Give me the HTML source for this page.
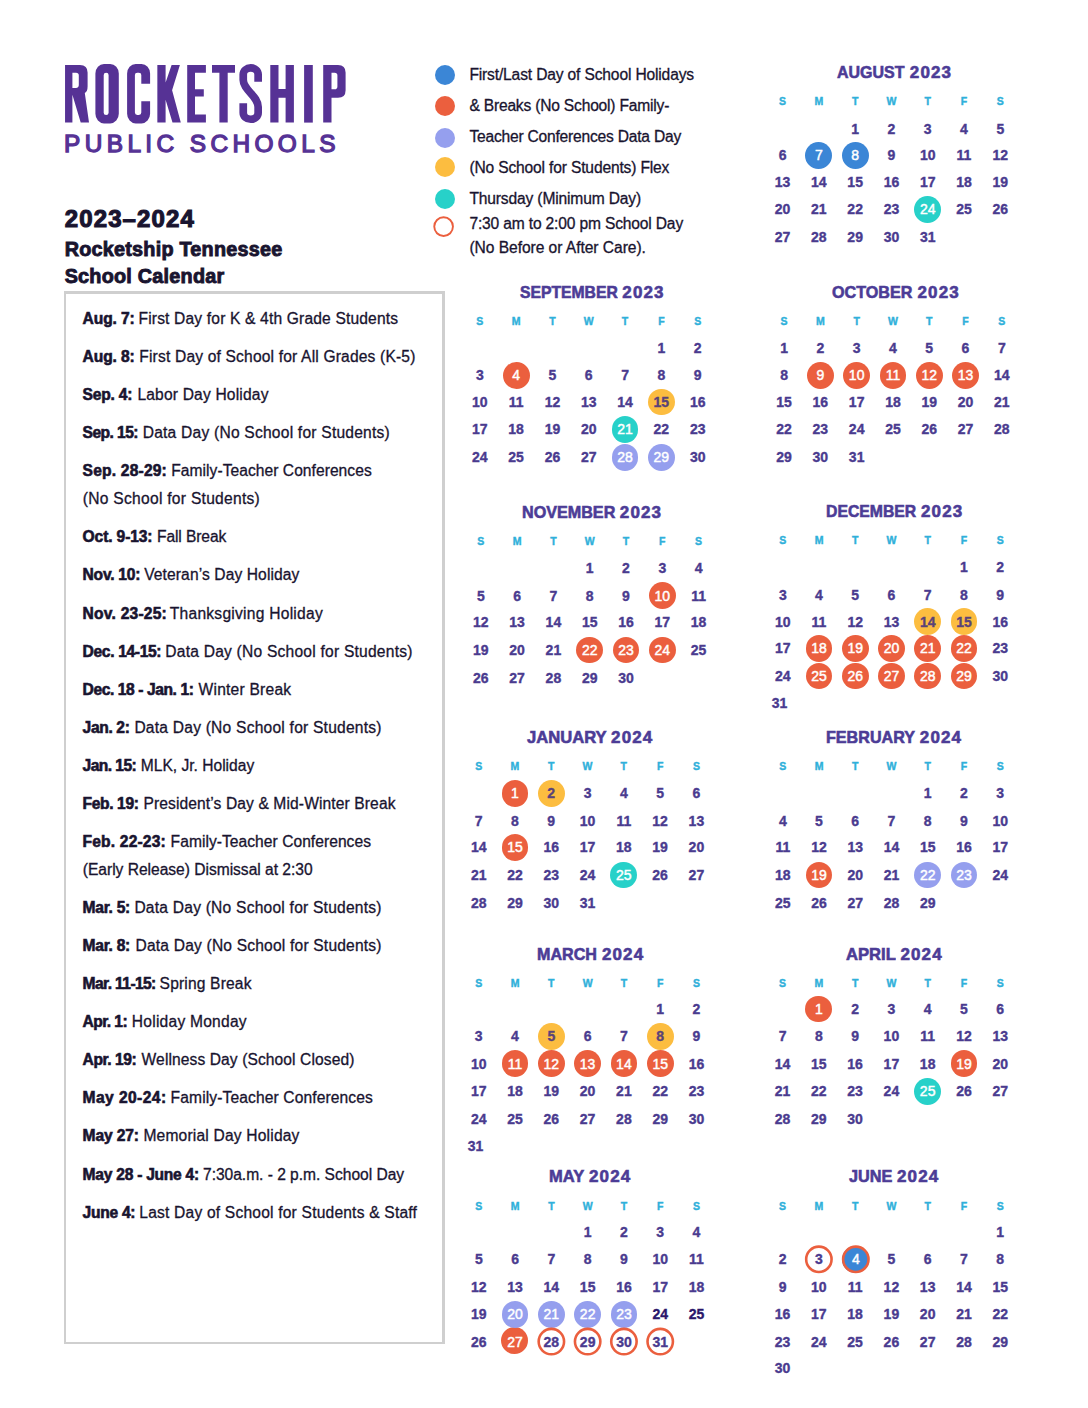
<!DOCTYPE html>
<html lang="en"><head><meta charset="utf-8"><title>Rocketship Tennessee School Calendar 2023-2024</title>
<style>
html,body{margin:0;padding:0;background:#fff}
body{width:1088px;height:1408px;position:relative;overflow:hidden;font-family:"Liberation Sans", sans-serif;}
.t{position:absolute;white-space:nowrap;line-height:1;font-kerning:normal}
.c,.d{position:absolute;border-radius:50%;display:block}
.c{width:26.8px;height:26.8px}
.d{width:20.6px;height:20.6px}
.box{position:absolute;left:64px;top:291px;width:381px;height:1053px;box-sizing:border-box;border:solid #cfcfcf;border-width:3px 3px 2px 2px}
svg.logo{position:absolute;left:0;top:0}
b{font-weight:700}
</style></head><body>
<svg class="logo" width="400" height="170" viewBox="0 0 400 170" fill="#563295">
<path fill-rule="evenodd" d="M65.05 65H80Q87.6 65 87.6 72.6V86.4Q87.6 91.4 84.8 93L89 122.6H80.7L72.4 94.8V122.6H65.05Z M72.4 72.7H76Q78.8 72.7 78.8 75.5V85.1Q78.8 87.9 76 87.9H72.4Z"/>
<path fill-rule="evenodd" d="M104.00 64.00H110.20A8.6 9.6 0 0 1 118.80 73.60V113.80A8.6 9.6 0 0 1 110.20 123.40H104.00A8.6 9.6 0 0 1 95.40 113.80V73.60A8.6 9.6 0 0 1 104.00 64.00Z M106.15 72.70Q103.70 72.70 103.70 74.90V112.80Q103.70 115.00 106.15 115.00Q108.60 115.00 108.60 112.80V74.90Q108.60 72.70 106.15 72.70Z"/>
<path d="M135.70 64.00H141.50A8.6 9.6 0 0 1 150.10 73.60V83.70H141.30V75.10Q141.30 72.70 138.90 72.70H137.30Q134.90 72.70 134.90 75.10V112.60Q134.90 115.00 137.30 115.00H138.90Q141.30 115.00 141.30 112.60V101.20H150.10V113.80A8.6 9.6 0 0 1 141.50 123.40H135.70A8.6 9.6 0 0 1 127.10 113.80V73.60A8.6 9.6 0 0 1 135.70 64.00Z"/>
<path d="M157.35 65H165.6V82.4L171.6 65H179.9L172.1 90.2L180.8 122.6H172.5L165.6 99.8V122.6H157.35Z"/>
<path d="M187.2 65H205.9V72.7H195V89.25H203.8V96.6H195V114.5H205.9V122.6H187.2Z"/>
<path d="M212 65H235V72.7H227.7V122.6H219.4V72.7H212Z"/>
<path fill="none" stroke="#563295" stroke-width="7.7" d="M258.15 81.7V74.5A7.45 6.55 0 0 0 243.25 74.5V80C243.25 90 258.15 96 258.15 107V112.7A7.45 6.55 0 0 1 243.25 112.7V103.2"/>
<path d="M270.3 65H278.5V88.9H285.6V65H293.9V122.6H285.6V97.7H278.5V122.6H270.3Z"/>
<path d="M304.1 65H312.8V122.6H304.1Z"/>
<path fill-rule="evenodd" d="M323.2 65H338Q345.6 65 345.6 72.6V90.2Q345.6 97.8 338 97.8H331.5V122.6H323.2Z M331.5 72.8H334.6Q337.4 72.8 337.4 75.6V86.4Q337.4 89.2 334.6 89.2H331.5Z"/>
</svg>

<div class="box"></div>
<i class="c" style="left:500.98px;top:1326.90px;background:#eb5f3e"></i>
<i class="c" style="left:805.48px;top:142.00px;background:#3b86d6"></i>
<i class="c" style="left:841.77px;top:142.00px;background:#3b86d6"></i>
<i class="c" style="left:914.33px;top:196.00px;background:#27d1c9"></i>
<i class="c" style="left:502.72px;top:361.90px;background:#eb5f3e"></i>
<i class="c" style="left:647.98px;top:388.60px;background:#fcbd40"></i>
<i class="c" style="left:611.67px;top:416.00px;background:#27d1c9"></i>
<i class="c" style="left:611.67px;top:444.00px;background:#959fee"></i>
<i class="c" style="left:647.98px;top:444.00px;background:#959fee"></i>
<i class="c" style="left:806.98px;top:361.90px;background:#eb5f3e"></i>
<i class="c" style="left:843.27px;top:361.90px;background:#eb5f3e"></i>
<i class="c" style="left:879.55px;top:361.90px;background:#eb5f3e"></i>
<i class="c" style="left:915.83px;top:361.90px;background:#eb5f3e"></i>
<i class="c" style="left:952.12px;top:361.90px;background:#eb5f3e"></i>
<i class="c" style="left:648.90px;top:582.10px;background:#eb5f3e"></i>
<i class="c" style="left:576.30px;top:636.70px;background:#eb5f3e"></i>
<i class="c" style="left:612.60px;top:636.70px;background:#eb5f3e"></i>
<i class="c" style="left:648.90px;top:636.70px;background:#eb5f3e"></i>
<i class="c" style="left:914.33px;top:608.20px;background:#fcbd40"></i>
<i class="c" style="left:950.57px;top:608.20px;background:#fcbd40"></i>
<i class="c" style="left:805.63px;top:634.90px;background:#eb5f3e"></i>
<i class="c" style="left:841.87px;top:634.90px;background:#eb5f3e"></i>
<i class="c" style="left:878.10px;top:634.90px;background:#eb5f3e"></i>
<i class="c" style="left:914.33px;top:634.90px;background:#eb5f3e"></i>
<i class="c" style="left:950.57px;top:634.90px;background:#eb5f3e"></i>
<i class="c" style="left:805.63px;top:662.70px;background:#eb5f3e"></i>
<i class="c" style="left:841.87px;top:662.70px;background:#eb5f3e"></i>
<i class="c" style="left:878.10px;top:662.70px;background:#eb5f3e"></i>
<i class="c" style="left:914.33px;top:662.70px;background:#eb5f3e"></i>
<i class="c" style="left:950.57px;top:662.70px;background:#eb5f3e"></i>
<i class="c" style="left:501.58px;top:780.00px;background:#eb5f3e"></i>
<i class="c" style="left:537.87px;top:780.00px;background:#fcbd40"></i>
<i class="c" style="left:501.58px;top:833.80px;background:#eb5f3e"></i>
<i class="c" style="left:610.43px;top:861.70px;background:#27d1c9"></i>
<i class="c" style="left:805.63px;top:861.70px;background:#eb5f3e"></i>
<i class="c" style="left:914.33px;top:861.70px;background:#959fee"></i>
<i class="c" style="left:950.57px;top:861.70px;background:#959fee"></i>
<i class="c" style="left:537.90px;top:1022.80px;background:#fcbd40"></i>
<i class="c" style="left:646.80px;top:1022.80px;background:#fcbd40"></i>
<i class="c" style="left:501.60px;top:1050.10px;background:#eb5f3e"></i>
<i class="c" style="left:537.90px;top:1050.10px;background:#eb5f3e"></i>
<i class="c" style="left:574.20px;top:1050.10px;background:#eb5f3e"></i>
<i class="c" style="left:610.50px;top:1050.10px;background:#eb5f3e"></i>
<i class="c" style="left:646.80px;top:1050.10px;background:#eb5f3e"></i>
<i class="c" style="left:805.47px;top:995.50px;background:#eb5f3e"></i>
<i class="c" style="left:950.53px;top:1050.10px;background:#eb5f3e"></i>
<i class="c" style="left:914.27px;top:1077.90px;background:#27d1c9"></i>
<i class="c" style="left:501.68px;top:1300.90px;background:#959fee"></i>
<i class="c" style="left:537.97px;top:1300.90px;background:#959fee"></i>
<i class="c" style="left:574.25px;top:1300.90px;background:#959fee"></i>
<i class="c" style="left:610.53px;top:1300.90px;background:#959fee"></i>
<i class="c" style="left:842.43px;top:1245.90px;background:#3b86d6"></i>
<i class="d" style="left:434.70px;top:64.70px;background:#3b86d6"></i>
<i class="d" style="left:434.70px;top:95.80px;background:#eb5f3e"></i>
<i class="d" style="left:434.70px;top:127.60px;background:#959fee"></i>
<i class="d" style="left:434.70px;top:156.80px;background:#fcbd40"></i>
<i class="d" style="left:434.70px;top:188.80px;background:#27d1c9"></i>
<svg class="logo" width="1088" height="1408" viewBox="0 0 1088 1408" fill="none" stroke="#eb5f3e">
<circle cx="551.37" cy="1341.60" r="12.7" stroke-width="2.6"/>
<circle cx="587.65" cy="1341.60" r="12.7" stroke-width="2.6"/>
<circle cx="623.93" cy="1341.60" r="12.7" stroke-width="2.6"/>
<circle cx="660.22" cy="1341.60" r="12.7" stroke-width="2.6"/>
<circle cx="818.87" cy="1259.30" r="12.7" stroke-width="2.6"/>
<circle cx="855.83" cy="1259.30" r="12.7" stroke-width="2.6"/>
<circle cx="443.6" cy="226.6" r="9.35" stroke-width="1.9"/>
</svg>
<span class="t" id="t0" style="top:205px;line-height:27px;font-size:24.00px;color:#19142f;font-weight:700;letter-spacing:1.132px;left:64.70px;-webkit-text-stroke:1.1px #19142f;">2023–2024</span>
<span class="t" id="t1" style="top:238px;line-height:22px;font-size:19.80px;color:#19142f;font-weight:700;letter-spacing:0.241px;left:64.70px;-webkit-text-stroke:0.9px #19142f;">Rocketship Tennessee</span>
<span class="t" id="t2" style="top:265px;line-height:22px;font-size:19.80px;color:#19142f;font-weight:700;letter-spacing:0.243px;left:64.70px;-webkit-text-stroke:0.9px #19142f;">School Calendar</span>
<span class="t" id="t3" style="top:130px;line-height:27px;font-size:24.40px;color:#563295;letter-spacing:4.410px;left:64.00px;-webkit-text-stroke:1.35px #563295;">PUBLIC SCHOOLS</span>
<span class="t" id="t4" style="top:66px;line-height:17px;font-size:15.60px;color:#19142f;letter-spacing:-0.155px;left:469.40px;-webkit-text-stroke:0.3px #19142f;">First/Last Day of School Holidays</span>
<span class="t" id="t5" style="top:97px;line-height:17px;font-size:15.60px;color:#19142f;letter-spacing:-0.199px;left:469.40px;-webkit-text-stroke:0.3px #19142f;">&amp; Breaks (No School) Family-</span>
<span class="t" id="t6" style="top:128px;line-height:17px;font-size:15.60px;color:#19142f;letter-spacing:-0.213px;left:469.40px;-webkit-text-stroke:0.3px #19142f;">Teacher Conferences Data Day</span>
<span class="t" id="t7" style="top:159px;line-height:17px;font-size:15.60px;color:#19142f;letter-spacing:-0.162px;left:469.40px;-webkit-text-stroke:0.3px #19142f;">(No School for Students) Flex</span>
<span class="t" id="t8" style="top:190px;line-height:17px;font-size:15.60px;color:#19142f;letter-spacing:-0.154px;left:469.40px;-webkit-text-stroke:0.3px #19142f;">Thursday (Minimum Day)</span>
<span class="t" id="t9" style="top:215px;line-height:17px;font-size:15.60px;color:#19142f;letter-spacing:-0.166px;left:469.40px;-webkit-text-stroke:0.3px #19142f;">7:30 am to 2:00 pm School Day</span>
<span class="t" id="t10" style="top:239px;line-height:17px;font-size:15.60px;color:#19142f;letter-spacing:-0.047px;left:469.40px;-webkit-text-stroke:0.3px #19142f;">(No Before or After Care).</span>
<span class="t" id="t11" style="top:310px;line-height:17px;font-size:15.60px;color:#19142f;font-weight:700;letter-spacing:-0.107px;left:82.60px;-webkit-text-stroke:0.6px #19142f;">Aug. 7:</span>
<span class="t" id="t12" style="top:310px;line-height:17px;font-size:15.60px;color:#19142f;letter-spacing:0.161px;left:138.50px;-webkit-text-stroke:0.3px #19142f;">First Day for K &amp; 4th Grade Students</span>
<span class="t" id="t13" style="top:348px;line-height:17px;font-size:15.60px;color:#19142f;font-weight:700;letter-spacing:-0.107px;left:82.60px;-webkit-text-stroke:0.6px #19142f;">Aug. 8:</span>
<span class="t" id="t14" style="top:348px;line-height:17px;font-size:15.60px;color:#19142f;letter-spacing:0.169px;left:139.30px;-webkit-text-stroke:0.3px #19142f;">First Day of School for All Grades (K-5)</span>
<span class="t" id="t15" style="top:386px;line-height:17px;font-size:15.60px;color:#19142f;font-weight:700;letter-spacing:-0.207px;left:82.60px;-webkit-text-stroke:0.6px #19142f;">Sep. 4:</span>
<span class="t" id="t16" style="top:386px;line-height:17px;font-size:15.60px;color:#19142f;letter-spacing:0.175px;left:137.40px;-webkit-text-stroke:0.3px #19142f;">Labor Day Holiday</span>
<span class="t" id="t17" style="top:424px;line-height:17px;font-size:15.60px;color:#19142f;font-weight:700;letter-spacing:-0.559px;left:82.60px;-webkit-text-stroke:0.6px #19142f;">Sep. 15:</span>
<span class="t" id="t18" style="top:424px;line-height:17px;font-size:15.60px;color:#19142f;letter-spacing:0.219px;left:142.70px;-webkit-text-stroke:0.3px #19142f;">Data Day (No School for Students)</span>
<span class="t" id="t19" style="top:462px;line-height:17px;font-size:15.60px;color:#19142f;font-weight:700;letter-spacing:0.186px;left:82.60px;-webkit-text-stroke:0.6px #19142f;">Sep. 28-29:</span>
<span class="t" id="t20" style="top:462px;line-height:17px;font-size:15.60px;color:#19142f;letter-spacing:0.042px;left:171.30px;-webkit-text-stroke:0.3px #19142f;">Family-Teacher Conferences</span>
<span class="t" id="t21" style="top:490px;line-height:17px;font-size:15.60px;color:#19142f;letter-spacing:0.272px;left:82.80px;-webkit-text-stroke:0.3px #19142f;">(No School for Students)</span>
<span class="t" id="t22" style="top:528px;line-height:17px;font-size:15.60px;color:#19142f;font-weight:700;letter-spacing:-0.131px;left:82.60px;-webkit-text-stroke:0.6px #19142f;">Oct. 9-13:</span>
<span class="t" id="t23" style="top:528px;line-height:17px;font-size:15.60px;color:#19142f;letter-spacing:-0.100px;left:157.00px;-webkit-text-stroke:0.3px #19142f;">Fall Break</span>
<span class="t" id="t24" style="top:566px;line-height:17px;font-size:15.60px;color:#19142f;font-weight:700;letter-spacing:-0.245px;left:82.60px;-webkit-text-stroke:0.6px #19142f;">Nov. 10:</span>
<span class="t" id="t25" style="top:566px;line-height:17px;font-size:15.60px;color:#19142f;letter-spacing:0.103px;left:144.20px;-webkit-text-stroke:0.3px #19142f;">Veteran’s Day Holiday</span>
<span class="t" id="t26" style="top:605px;line-height:17px;font-size:15.60px;color:#19142f;font-weight:700;letter-spacing:0.215px;left:82.60px;-webkit-text-stroke:0.6px #19142f;">Nov. 23-25:</span>
<span class="t" id="t27" style="top:605px;line-height:17px;font-size:15.60px;color:#19142f;letter-spacing:0.246px;left:169.80px;-webkit-text-stroke:0.3px #19142f;">Thanksgiving Holiday</span>
<span class="t" id="t28" style="top:643px;line-height:17px;font-size:15.60px;color:#19142f;font-weight:700;letter-spacing:-0.346px;left:82.60px;-webkit-text-stroke:0.6px #19142f;">Dec. 14-15:</span>
<span class="t" id="t29" style="top:643px;line-height:17px;font-size:15.60px;color:#19142f;letter-spacing:0.219px;left:165.30px;-webkit-text-stroke:0.3px #19142f;">Data Day (No School for Students)</span>
<span class="t" id="t30" style="top:681px;line-height:17px;font-size:15.60px;color:#19142f;font-weight:700;letter-spacing:-0.411px;left:82.60px;-webkit-text-stroke:0.6px #19142f;">Dec. 18 - Jan. 1:</span>
<span class="t" id="t31" style="top:681px;line-height:17px;font-size:15.60px;color:#19142f;letter-spacing:0.225px;left:198.50px;-webkit-text-stroke:0.3px #19142f;">Winter Break</span>
<span class="t" id="t32" style="top:719px;line-height:17px;font-size:15.60px;color:#19142f;font-weight:700;letter-spacing:-0.351px;left:82.60px;-webkit-text-stroke:0.6px #19142f;">Jan. 2:</span>
<span class="t" id="t33" style="top:719px;line-height:17px;font-size:15.60px;color:#19142f;letter-spacing:0.219px;left:134.40px;-webkit-text-stroke:0.3px #19142f;">Data Day (No School for Students)</span>
<span class="t" id="t34" style="top:757px;line-height:17px;font-size:15.60px;color:#19142f;font-weight:700;letter-spacing:-0.568px;left:82.60px;-webkit-text-stroke:0.6px #19142f;">Jan. 15:</span>
<span class="t" id="t35" style="top:757px;line-height:17px;font-size:15.60px;color:#19142f;letter-spacing:-0.009px;left:140.80px;-webkit-text-stroke:0.3px #19142f;">MLK, Jr. Holiday</span>
<span class="t" id="t36" style="top:795px;line-height:17px;font-size:15.60px;color:#19142f;font-weight:700;letter-spacing:-0.377px;left:82.60px;-webkit-text-stroke:0.6px #19142f;">Feb. 19:</span>
<span class="t" id="t37" style="top:795px;line-height:17px;font-size:15.60px;color:#19142f;letter-spacing:0.111px;left:143.40px;-webkit-text-stroke:0.3px #19142f;">President’s Day &amp; Mid-Winter Break</span>
<span class="t" id="t38" style="top:833px;line-height:17px;font-size:15.60px;color:#19142f;font-weight:700;letter-spacing:0.163px;left:82.60px;-webkit-text-stroke:0.6px #19142f;">Feb. 22-23:</span>
<span class="t" id="t39" style="top:833px;line-height:17px;font-size:15.60px;color:#19142f;letter-spacing:0.042px;left:170.60px;-webkit-text-stroke:0.3px #19142f;">Family-Teacher Conferences</span>
<span class="t" id="t40" style="top:861px;line-height:17px;font-size:15.60px;color:#19142f;letter-spacing:-0.023px;left:82.80px;-webkit-text-stroke:0.3px #19142f;">(Early Release) Dismissal at 2:30</span>
<span class="t" id="t41" style="top:899px;line-height:17px;font-size:15.60px;color:#19142f;font-weight:700;letter-spacing:-0.284px;left:82.60px;-webkit-text-stroke:0.6px #19142f;">Mar. 5:</span>
<span class="t" id="t42" style="top:899px;line-height:17px;font-size:15.60px;color:#19142f;letter-spacing:0.219px;left:134.40px;-webkit-text-stroke:0.3px #19142f;">Data Day (No School for Students)</span>
<span class="t" id="t43" style="top:937px;line-height:17px;font-size:15.60px;color:#19142f;font-weight:700;letter-spacing:-0.284px;left:82.60px;-webkit-text-stroke:0.6px #19142f;">Mar. 8:</span>
<span class="t" id="t44" style="top:937px;line-height:17px;font-size:15.60px;color:#19142f;letter-spacing:0.185px;left:135.50px;-webkit-text-stroke:0.3px #19142f;">Data Day (No School for Students)</span>
<span class="t" id="t45" style="top:975px;line-height:17px;font-size:15.60px;color:#19142f;font-weight:700;letter-spacing:-0.605px;left:82.60px;-webkit-text-stroke:0.6px #19142f;">Mar. 11-15:</span>
<span class="t" id="t46" style="top:975px;line-height:17px;font-size:15.60px;color:#19142f;letter-spacing:0.159px;left:159.60px;-webkit-text-stroke:0.3px #19142f;">Spring Break</span>
<span class="t" id="t47" style="top:1013px;line-height:17px;font-size:15.60px;color:#19142f;font-weight:700;letter-spacing:-0.589px;left:82.60px;-webkit-text-stroke:0.6px #19142f;">Apr. 1:</span>
<span class="t" id="t48" style="top:1013px;line-height:17px;font-size:15.60px;color:#19142f;letter-spacing:0.229px;left:131.80px;-webkit-text-stroke:0.3px #19142f;">Holiday Monday</span>
<span class="t" id="t49" style="top:1051px;line-height:17px;font-size:15.60px;color:#19142f;font-weight:700;letter-spacing:-0.443px;left:82.60px;-webkit-text-stroke:0.6px #19142f;">Apr. 19:</span>
<span class="t" id="t50" style="top:1051px;line-height:17px;font-size:15.60px;color:#19142f;letter-spacing:0.092px;left:141.60px;-webkit-text-stroke:0.3px #19142f;">Wellness Day (School Closed)</span>
<span class="t" id="t51" style="top:1089px;line-height:17px;font-size:15.60px;color:#19142f;font-weight:700;letter-spacing:0.417px;left:82.60px;-webkit-text-stroke:0.6px #19142f;">May 20-24:</span>
<span class="t" id="t52" style="top:1089px;line-height:17px;font-size:15.60px;color:#19142f;letter-spacing:0.118px;left:170.60px;-webkit-text-stroke:0.3px #19142f;">Family-Teacher Conferences</span>
<span class="t" id="t53" style="top:1127px;line-height:17px;font-size:15.60px;color:#19142f;font-weight:700;letter-spacing:-0.153px;left:82.60px;-webkit-text-stroke:0.6px #19142f;">May 27:</span>
<span class="t" id="t54" style="top:1127px;line-height:17px;font-size:15.60px;color:#19142f;letter-spacing:0.183px;left:143.40px;-webkit-text-stroke:0.3px #19142f;">Memorial Day Holiday</span>
<span class="t" id="t55" style="top:1166px;line-height:17px;font-size:15.60px;color:#19142f;font-weight:700;letter-spacing:-0.258px;left:82.60px;-webkit-text-stroke:0.6px #19142f;">May 28 - June 4:</span>
<span class="t" id="t56" style="top:1166px;line-height:17px;font-size:15.60px;color:#19142f;letter-spacing:-0.032px;left:203.00px;-webkit-text-stroke:0.3px #19142f;">7:30a.m. - 2 p.m. School Day</span>
<span class="t" id="t57" style="top:1204px;line-height:17px;font-size:15.60px;color:#19142f;font-weight:700;letter-spacing:-0.282px;left:82.60px;-webkit-text-stroke:0.6px #19142f;">June 4:</span>
<span class="t" id="t58" style="top:1204px;line-height:17px;font-size:15.60px;color:#19142f;letter-spacing:0.195px;left:139.30px;-webkit-text-stroke:0.3px #19142f;">Last Day of School for Students &amp; Staff</span>
<span class="t" id="t59" style="top:63px;line-height:19px;font-size:17.00px;color:#4c3c96;font-weight:700;left:837.40px;transform-origin:0 0;transform:scaleX(0.9390);-webkit-text-stroke:0.6px #4c3c96;">AUGUST</span>
<span class="t" id="t60" style="top:63px;line-height:19px;font-size:17.00px;color:#4c3c96;font-weight:700;letter-spacing:1.124px;left:909.80px;-webkit-text-stroke:0.6px #4c3c96;">2023</span>
<span class="t" id="t61" style="top:95px;line-height:12px;font-size:10.50px;color:#2fb0da;font-weight:700;left:782.60px;transform:translateX(-50%);-webkit-text-stroke:0.4px #2fb0da;">S</span>
<span class="t" id="t62" style="top:95px;line-height:12px;font-size:10.50px;color:#2fb0da;font-weight:700;left:818.88px;transform:translateX(-50%);-webkit-text-stroke:0.4px #2fb0da;">M</span>
<span class="t" id="t63" style="top:95px;line-height:12px;font-size:10.50px;color:#2fb0da;font-weight:700;left:855.17px;transform:translateX(-50%);-webkit-text-stroke:0.4px #2fb0da;">T</span>
<span class="t" id="t64" style="top:95px;line-height:12px;font-size:10.50px;color:#2fb0da;font-weight:700;left:891.45px;transform:translateX(-50%);-webkit-text-stroke:0.4px #2fb0da;">W</span>
<span class="t" id="t65" style="top:95px;line-height:12px;font-size:10.50px;color:#2fb0da;font-weight:700;left:927.73px;transform:translateX(-50%);-webkit-text-stroke:0.4px #2fb0da;">T</span>
<span class="t" id="t66" style="top:95px;line-height:12px;font-size:10.50px;color:#2fb0da;font-weight:700;left:964.02px;transform:translateX(-50%);-webkit-text-stroke:0.4px #2fb0da;">F</span>
<span class="t" id="t67" style="top:95px;line-height:12px;font-size:10.50px;color:#2fb0da;font-weight:700;left:1000.30px;transform:translateX(-50%);-webkit-text-stroke:0.4px #2fb0da;">S</span>
<span class="t" id="t68" style="top:121px;line-height:16px;font-size:14.00px;color:#4a3b8f;font-weight:700;left:855.17px;transform:translateX(-50%);-webkit-text-stroke:0.35px #4a3b8f;">1</span>
<span class="t" id="t69" style="top:121px;line-height:16px;font-size:14.00px;color:#4a3b8f;font-weight:700;left:891.45px;transform:translateX(-50%);-webkit-text-stroke:0.35px #4a3b8f;">2</span>
<span class="t" id="t70" style="top:121px;line-height:16px;font-size:14.00px;color:#4a3b8f;font-weight:700;left:927.73px;transform:translateX(-50%);-webkit-text-stroke:0.35px #4a3b8f;">3</span>
<span class="t" id="t71" style="top:121px;line-height:16px;font-size:14.00px;color:#4a3b8f;font-weight:700;left:964.02px;transform:translateX(-50%);-webkit-text-stroke:0.35px #4a3b8f;">4</span>
<span class="t" id="t72" style="top:121px;line-height:16px;font-size:14.00px;color:#4a3b8f;font-weight:700;left:1000.30px;transform:translateX(-50%);-webkit-text-stroke:0.35px #4a3b8f;">5</span>
<span class="t" id="t73" style="top:147px;line-height:16px;font-size:14.00px;color:#4a3b8f;font-weight:700;left:782.60px;transform:translateX(-50%);-webkit-text-stroke:0.35px #4a3b8f;">6</span>
<span class="t" id="t74" style="top:147px;line-height:16px;font-size:14.00px;color:#fff;left:818.88px;transform:translateX(-50%);-webkit-text-stroke:0.45px #fff;">7</span>
<span class="t" id="t75" style="top:147px;line-height:16px;font-size:14.00px;color:#fff;left:855.17px;transform:translateX(-50%);-webkit-text-stroke:0.45px #fff;">8</span>
<span class="t" id="t76" style="top:147px;line-height:16px;font-size:14.00px;color:#4a3b8f;font-weight:700;left:891.45px;transform:translateX(-50%);-webkit-text-stroke:0.35px #4a3b8f;">9</span>
<span class="t" id="t77" style="top:147px;line-height:16px;font-size:14.00px;color:#4a3b8f;font-weight:700;left:927.73px;transform:translateX(-50%);-webkit-text-stroke:0.35px #4a3b8f;">10</span>
<span class="t" id="t78" style="top:147px;line-height:16px;font-size:14.00px;color:#4a3b8f;font-weight:700;left:964.02px;transform:translateX(-50%);-webkit-text-stroke:0.35px #4a3b8f;">11</span>
<span class="t" id="t79" style="top:147px;line-height:16px;font-size:14.00px;color:#4a3b8f;font-weight:700;left:1000.30px;transform:translateX(-50%);-webkit-text-stroke:0.35px #4a3b8f;">12</span>
<span class="t" id="t80" style="top:174px;line-height:16px;font-size:14.00px;color:#4a3b8f;font-weight:700;left:782.60px;transform:translateX(-50%);-webkit-text-stroke:0.35px #4a3b8f;">13</span>
<span class="t" id="t81" style="top:174px;line-height:16px;font-size:14.00px;color:#4a3b8f;font-weight:700;left:818.88px;transform:translateX(-50%);-webkit-text-stroke:0.35px #4a3b8f;">14</span>
<span class="t" id="t82" style="top:174px;line-height:16px;font-size:14.00px;color:#4a3b8f;font-weight:700;left:855.17px;transform:translateX(-50%);-webkit-text-stroke:0.35px #4a3b8f;">15</span>
<span class="t" id="t83" style="top:174px;line-height:16px;font-size:14.00px;color:#4a3b8f;font-weight:700;left:891.45px;transform:translateX(-50%);-webkit-text-stroke:0.35px #4a3b8f;">16</span>
<span class="t" id="t84" style="top:174px;line-height:16px;font-size:14.00px;color:#4a3b8f;font-weight:700;left:927.73px;transform:translateX(-50%);-webkit-text-stroke:0.35px #4a3b8f;">17</span>
<span class="t" id="t85" style="top:174px;line-height:16px;font-size:14.00px;color:#4a3b8f;font-weight:700;left:964.02px;transform:translateX(-50%);-webkit-text-stroke:0.35px #4a3b8f;">18</span>
<span class="t" id="t86" style="top:174px;line-height:16px;font-size:14.00px;color:#4a3b8f;font-weight:700;left:1000.30px;transform:translateX(-50%);-webkit-text-stroke:0.35px #4a3b8f;">19</span>
<span class="t" id="t87" style="top:201px;line-height:16px;font-size:14.00px;color:#4a3b8f;font-weight:700;left:782.60px;transform:translateX(-50%);-webkit-text-stroke:0.35px #4a3b8f;">20</span>
<span class="t" id="t88" style="top:201px;line-height:16px;font-size:14.00px;color:#4a3b8f;font-weight:700;left:818.88px;transform:translateX(-50%);-webkit-text-stroke:0.35px #4a3b8f;">21</span>
<span class="t" id="t89" style="top:201px;line-height:16px;font-size:14.00px;color:#4a3b8f;font-weight:700;left:855.17px;transform:translateX(-50%);-webkit-text-stroke:0.35px #4a3b8f;">22</span>
<span class="t" id="t90" style="top:201px;line-height:16px;font-size:14.00px;color:#4a3b8f;font-weight:700;left:891.45px;transform:translateX(-50%);-webkit-text-stroke:0.35px #4a3b8f;">23</span>
<span class="t" id="t91" style="top:201px;line-height:16px;font-size:14.00px;color:#fff;left:927.73px;transform:translateX(-50%);-webkit-text-stroke:0.45px #fff;">24</span>
<span class="t" id="t92" style="top:201px;line-height:16px;font-size:14.00px;color:#4a3b8f;font-weight:700;left:964.02px;transform:translateX(-50%);-webkit-text-stroke:0.35px #4a3b8f;">25</span>
<span class="t" id="t93" style="top:201px;line-height:16px;font-size:14.00px;color:#4a3b8f;font-weight:700;left:1000.30px;transform:translateX(-50%);-webkit-text-stroke:0.35px #4a3b8f;">26</span>
<span class="t" id="t94" style="top:229px;line-height:16px;font-size:14.00px;color:#4a3b8f;font-weight:700;left:782.60px;transform:translateX(-50%);-webkit-text-stroke:0.35px #4a3b8f;">27</span>
<span class="t" id="t95" style="top:229px;line-height:16px;font-size:14.00px;color:#4a3b8f;font-weight:700;left:818.88px;transform:translateX(-50%);-webkit-text-stroke:0.35px #4a3b8f;">28</span>
<span class="t" id="t96" style="top:229px;line-height:16px;font-size:14.00px;color:#4a3b8f;font-weight:700;left:855.17px;transform:translateX(-50%);-webkit-text-stroke:0.35px #4a3b8f;">29</span>
<span class="t" id="t97" style="top:229px;line-height:16px;font-size:14.00px;color:#4a3b8f;font-weight:700;left:891.45px;transform:translateX(-50%);-webkit-text-stroke:0.35px #4a3b8f;">30</span>
<span class="t" id="t98" style="top:229px;line-height:16px;font-size:14.00px;color:#4a3b8f;font-weight:700;left:927.73px;transform:translateX(-50%);-webkit-text-stroke:0.35px #4a3b8f;">31</span>
<span class="t" id="t99" style="top:283px;line-height:19px;font-size:17.00px;color:#4c3c96;font-weight:700;left:519.50px;transform-origin:0 0;transform:scaleX(0.9244);-webkit-text-stroke:0.6px #4c3c96;">SEPTEMBER</span>
<span class="t" id="t100" style="top:283px;line-height:19px;font-size:17.00px;color:#4c3c96;font-weight:700;letter-spacing:1.124px;left:622.30px;-webkit-text-stroke:0.6px #4c3c96;">2023</span>
<span class="t" id="t101" style="top:315px;line-height:12px;font-size:10.50px;color:#2fb0da;font-weight:700;left:479.80px;transform:translateX(-50%);-webkit-text-stroke:0.4px #2fb0da;">S</span>
<span class="t" id="t102" style="top:315px;line-height:12px;font-size:10.50px;color:#2fb0da;font-weight:700;left:516.12px;transform:translateX(-50%);-webkit-text-stroke:0.4px #2fb0da;">M</span>
<span class="t" id="t103" style="top:315px;line-height:12px;font-size:10.50px;color:#2fb0da;font-weight:700;left:552.43px;transform:translateX(-50%);-webkit-text-stroke:0.4px #2fb0da;">T</span>
<span class="t" id="t104" style="top:315px;line-height:12px;font-size:10.50px;color:#2fb0da;font-weight:700;left:588.75px;transform:translateX(-50%);-webkit-text-stroke:0.4px #2fb0da;">W</span>
<span class="t" id="t105" style="top:315px;line-height:12px;font-size:10.50px;color:#2fb0da;font-weight:700;left:625.07px;transform:translateX(-50%);-webkit-text-stroke:0.4px #2fb0da;">T</span>
<span class="t" id="t106" style="top:315px;line-height:12px;font-size:10.50px;color:#2fb0da;font-weight:700;left:661.38px;transform:translateX(-50%);-webkit-text-stroke:0.4px #2fb0da;">F</span>
<span class="t" id="t107" style="top:315px;line-height:12px;font-size:10.50px;color:#2fb0da;font-weight:700;left:697.70px;transform:translateX(-50%);-webkit-text-stroke:0.4px #2fb0da;">S</span>
<span class="t" id="t108" style="top:340px;line-height:16px;font-size:14.00px;color:#4a3b8f;font-weight:700;left:661.38px;transform:translateX(-50%);-webkit-text-stroke:0.35px #4a3b8f;">1</span>
<span class="t" id="t109" style="top:340px;line-height:16px;font-size:14.00px;color:#4a3b8f;font-weight:700;left:697.70px;transform:translateX(-50%);-webkit-text-stroke:0.35px #4a3b8f;">2</span>
<span class="t" id="t110" style="top:367px;line-height:16px;font-size:14.00px;color:#4a3b8f;font-weight:700;left:479.80px;transform:translateX(-50%);-webkit-text-stroke:0.35px #4a3b8f;">3</span>
<span class="t" id="t111" style="top:367px;line-height:16px;font-size:14.00px;color:#fff;left:516.12px;transform:translateX(-50%);-webkit-text-stroke:0.45px #fff;">4</span>
<span class="t" id="t112" style="top:367px;line-height:16px;font-size:14.00px;color:#4a3b8f;font-weight:700;left:552.43px;transform:translateX(-50%);-webkit-text-stroke:0.35px #4a3b8f;">5</span>
<span class="t" id="t113" style="top:367px;line-height:16px;font-size:14.00px;color:#4a3b8f;font-weight:700;left:588.75px;transform:translateX(-50%);-webkit-text-stroke:0.35px #4a3b8f;">6</span>
<span class="t" id="t114" style="top:367px;line-height:16px;font-size:14.00px;color:#4a3b8f;font-weight:700;left:625.07px;transform:translateX(-50%);-webkit-text-stroke:0.35px #4a3b8f;">7</span>
<span class="t" id="t115" style="top:367px;line-height:16px;font-size:14.00px;color:#4a3b8f;font-weight:700;left:661.38px;transform:translateX(-50%);-webkit-text-stroke:0.35px #4a3b8f;">8</span>
<span class="t" id="t116" style="top:367px;line-height:16px;font-size:14.00px;color:#4a3b8f;font-weight:700;left:697.70px;transform:translateX(-50%);-webkit-text-stroke:0.35px #4a3b8f;">9</span>
<span class="t" id="t117" style="top:394px;line-height:16px;font-size:14.00px;color:#4a3b8f;font-weight:700;left:479.80px;transform:translateX(-50%);-webkit-text-stroke:0.35px #4a3b8f;">10</span>
<span class="t" id="t118" style="top:394px;line-height:16px;font-size:14.00px;color:#4a3b8f;font-weight:700;left:516.12px;transform:translateX(-50%);-webkit-text-stroke:0.35px #4a3b8f;">11</span>
<span class="t" id="t119" style="top:394px;line-height:16px;font-size:14.00px;color:#4a3b8f;font-weight:700;left:552.43px;transform:translateX(-50%);-webkit-text-stroke:0.35px #4a3b8f;">12</span>
<span class="t" id="t120" style="top:394px;line-height:16px;font-size:14.00px;color:#4a3b8f;font-weight:700;left:588.75px;transform:translateX(-50%);-webkit-text-stroke:0.35px #4a3b8f;">13</span>
<span class="t" id="t121" style="top:394px;line-height:16px;font-size:14.00px;color:#4a3b8f;font-weight:700;left:625.07px;transform:translateX(-50%);-webkit-text-stroke:0.35px #4a3b8f;">14</span>
<span class="t" id="t122" style="top:394px;line-height:16px;font-size:14.00px;color:#5a4378;font-weight:700;left:661.38px;transform:translateX(-50%);-webkit-text-stroke:0.35px #5a4378;">15</span>
<span class="t" id="t123" style="top:394px;line-height:16px;font-size:14.00px;color:#4a3b8f;font-weight:700;left:697.70px;transform:translateX(-50%);-webkit-text-stroke:0.35px #4a3b8f;">16</span>
<span class="t" id="t124" style="top:421px;line-height:16px;font-size:14.00px;color:#4a3b8f;font-weight:700;left:479.80px;transform:translateX(-50%);-webkit-text-stroke:0.35px #4a3b8f;">17</span>
<span class="t" id="t125" style="top:421px;line-height:16px;font-size:14.00px;color:#4a3b8f;font-weight:700;left:516.12px;transform:translateX(-50%);-webkit-text-stroke:0.35px #4a3b8f;">18</span>
<span class="t" id="t126" style="top:421px;line-height:16px;font-size:14.00px;color:#4a3b8f;font-weight:700;left:552.43px;transform:translateX(-50%);-webkit-text-stroke:0.35px #4a3b8f;">19</span>
<span class="t" id="t127" style="top:421px;line-height:16px;font-size:14.00px;color:#4a3b8f;font-weight:700;left:588.75px;transform:translateX(-50%);-webkit-text-stroke:0.35px #4a3b8f;">20</span>
<span class="t" id="t128" style="top:421px;line-height:16px;font-size:14.00px;color:#fff;left:625.07px;transform:translateX(-50%);-webkit-text-stroke:0.45px #fff;">21</span>
<span class="t" id="t129" style="top:421px;line-height:16px;font-size:14.00px;color:#4a3b8f;font-weight:700;left:661.38px;transform:translateX(-50%);-webkit-text-stroke:0.35px #4a3b8f;">22</span>
<span class="t" id="t130" style="top:421px;line-height:16px;font-size:14.00px;color:#4a3b8f;font-weight:700;left:697.70px;transform:translateX(-50%);-webkit-text-stroke:0.35px #4a3b8f;">23</span>
<span class="t" id="t131" style="top:449px;line-height:16px;font-size:14.00px;color:#4a3b8f;font-weight:700;left:479.80px;transform:translateX(-50%);-webkit-text-stroke:0.35px #4a3b8f;">24</span>
<span class="t" id="t132" style="top:449px;line-height:16px;font-size:14.00px;color:#4a3b8f;font-weight:700;left:516.12px;transform:translateX(-50%);-webkit-text-stroke:0.35px #4a3b8f;">25</span>
<span class="t" id="t133" style="top:449px;line-height:16px;font-size:14.00px;color:#4a3b8f;font-weight:700;left:552.43px;transform:translateX(-50%);-webkit-text-stroke:0.35px #4a3b8f;">26</span>
<span class="t" id="t134" style="top:449px;line-height:16px;font-size:14.00px;color:#4a3b8f;font-weight:700;left:588.75px;transform:translateX(-50%);-webkit-text-stroke:0.35px #4a3b8f;">27</span>
<span class="t" id="t135" style="top:449px;line-height:16px;font-size:14.00px;color:#fff;left:625.07px;transform:translateX(-50%);-webkit-text-stroke:0.45px #fff;">28</span>
<span class="t" id="t136" style="top:449px;line-height:16px;font-size:14.00px;color:#fff;left:661.38px;transform:translateX(-50%);-webkit-text-stroke:0.45px #fff;">29</span>
<span class="t" id="t137" style="top:449px;line-height:16px;font-size:14.00px;color:#4a3b8f;font-weight:700;left:697.70px;transform:translateX(-50%);-webkit-text-stroke:0.35px #4a3b8f;">30</span>
<span class="t" id="t138" style="top:283px;line-height:19px;font-size:17.00px;color:#4c3c96;font-weight:700;left:832.10px;transform-origin:0 0;transform:scaleX(0.9492);-webkit-text-stroke:0.6px #4c3c96;">OCTOBER</span>
<span class="t" id="t139" style="top:283px;line-height:19px;font-size:17.00px;color:#4c3c96;font-weight:700;letter-spacing:1.124px;left:917.50px;-webkit-text-stroke:0.6px #4c3c96;">2023</span>
<span class="t" id="t140" style="top:315px;line-height:12px;font-size:10.50px;color:#2fb0da;font-weight:700;left:784.10px;transform:translateX(-50%);-webkit-text-stroke:0.4px #2fb0da;">S</span>
<span class="t" id="t141" style="top:315px;line-height:12px;font-size:10.50px;color:#2fb0da;font-weight:700;left:820.38px;transform:translateX(-50%);-webkit-text-stroke:0.4px #2fb0da;">M</span>
<span class="t" id="t142" style="top:315px;line-height:12px;font-size:10.50px;color:#2fb0da;font-weight:700;left:856.67px;transform:translateX(-50%);-webkit-text-stroke:0.4px #2fb0da;">T</span>
<span class="t" id="t143" style="top:315px;line-height:12px;font-size:10.50px;color:#2fb0da;font-weight:700;left:892.95px;transform:translateX(-50%);-webkit-text-stroke:0.4px #2fb0da;">W</span>
<span class="t" id="t144" style="top:315px;line-height:12px;font-size:10.50px;color:#2fb0da;font-weight:700;left:929.23px;transform:translateX(-50%);-webkit-text-stroke:0.4px #2fb0da;">T</span>
<span class="t" id="t145" style="top:315px;line-height:12px;font-size:10.50px;color:#2fb0da;font-weight:700;left:965.52px;transform:translateX(-50%);-webkit-text-stroke:0.4px #2fb0da;">F</span>
<span class="t" id="t146" style="top:315px;line-height:12px;font-size:10.50px;color:#2fb0da;font-weight:700;left:1001.80px;transform:translateX(-50%);-webkit-text-stroke:0.4px #2fb0da;">S</span>
<span class="t" id="t147" style="top:340px;line-height:16px;font-size:14.00px;color:#4a3b8f;font-weight:700;left:784.10px;transform:translateX(-50%);-webkit-text-stroke:0.35px #4a3b8f;">1</span>
<span class="t" id="t148" style="top:340px;line-height:16px;font-size:14.00px;color:#4a3b8f;font-weight:700;left:820.38px;transform:translateX(-50%);-webkit-text-stroke:0.35px #4a3b8f;">2</span>
<span class="t" id="t149" style="top:340px;line-height:16px;font-size:14.00px;color:#4a3b8f;font-weight:700;left:856.67px;transform:translateX(-50%);-webkit-text-stroke:0.35px #4a3b8f;">3</span>
<span class="t" id="t150" style="top:340px;line-height:16px;font-size:14.00px;color:#4a3b8f;font-weight:700;left:892.95px;transform:translateX(-50%);-webkit-text-stroke:0.35px #4a3b8f;">4</span>
<span class="t" id="t151" style="top:340px;line-height:16px;font-size:14.00px;color:#4a3b8f;font-weight:700;left:929.23px;transform:translateX(-50%);-webkit-text-stroke:0.35px #4a3b8f;">5</span>
<span class="t" id="t152" style="top:340px;line-height:16px;font-size:14.00px;color:#4a3b8f;font-weight:700;left:965.52px;transform:translateX(-50%);-webkit-text-stroke:0.35px #4a3b8f;">6</span>
<span class="t" id="t153" style="top:340px;line-height:16px;font-size:14.00px;color:#4a3b8f;font-weight:700;left:1001.80px;transform:translateX(-50%);-webkit-text-stroke:0.35px #4a3b8f;">7</span>
<span class="t" id="t154" style="top:367px;line-height:16px;font-size:14.00px;color:#4a3b8f;font-weight:700;left:784.10px;transform:translateX(-50%);-webkit-text-stroke:0.35px #4a3b8f;">8</span>
<span class="t" id="t155" style="top:367px;line-height:16px;font-size:14.00px;color:#fff;left:820.38px;transform:translateX(-50%);-webkit-text-stroke:0.45px #fff;">9</span>
<span class="t" id="t156" style="top:367px;line-height:16px;font-size:14.00px;color:#fff;left:856.67px;transform:translateX(-50%);-webkit-text-stroke:0.45px #fff;">10</span>
<span class="t" id="t157" style="top:367px;line-height:16px;font-size:14.00px;color:#fff;left:892.95px;transform:translateX(-50%);-webkit-text-stroke:0.45px #fff;">11</span>
<span class="t" id="t158" style="top:367px;line-height:16px;font-size:14.00px;color:#fff;left:929.23px;transform:translateX(-50%);-webkit-text-stroke:0.45px #fff;">12</span>
<span class="t" id="t159" style="top:367px;line-height:16px;font-size:14.00px;color:#fff;left:965.52px;transform:translateX(-50%);-webkit-text-stroke:0.45px #fff;">13</span>
<span class="t" id="t160" style="top:367px;line-height:16px;font-size:14.00px;color:#4a3b8f;font-weight:700;left:1001.80px;transform:translateX(-50%);-webkit-text-stroke:0.35px #4a3b8f;">14</span>
<span class="t" id="t161" style="top:394px;line-height:16px;font-size:14.00px;color:#4a3b8f;font-weight:700;left:784.10px;transform:translateX(-50%);-webkit-text-stroke:0.35px #4a3b8f;">15</span>
<span class="t" id="t162" style="top:394px;line-height:16px;font-size:14.00px;color:#4a3b8f;font-weight:700;left:820.38px;transform:translateX(-50%);-webkit-text-stroke:0.35px #4a3b8f;">16</span>
<span class="t" id="t163" style="top:394px;line-height:16px;font-size:14.00px;color:#4a3b8f;font-weight:700;left:856.67px;transform:translateX(-50%);-webkit-text-stroke:0.35px #4a3b8f;">17</span>
<span class="t" id="t164" style="top:394px;line-height:16px;font-size:14.00px;color:#4a3b8f;font-weight:700;left:892.95px;transform:translateX(-50%);-webkit-text-stroke:0.35px #4a3b8f;">18</span>
<span class="t" id="t165" style="top:394px;line-height:16px;font-size:14.00px;color:#4a3b8f;font-weight:700;left:929.23px;transform:translateX(-50%);-webkit-text-stroke:0.35px #4a3b8f;">19</span>
<span class="t" id="t166" style="top:394px;line-height:16px;font-size:14.00px;color:#4a3b8f;font-weight:700;left:965.52px;transform:translateX(-50%);-webkit-text-stroke:0.35px #4a3b8f;">20</span>
<span class="t" id="t167" style="top:394px;line-height:16px;font-size:14.00px;color:#4a3b8f;font-weight:700;left:1001.80px;transform:translateX(-50%);-webkit-text-stroke:0.35px #4a3b8f;">21</span>
<span class="t" id="t168" style="top:421px;line-height:16px;font-size:14.00px;color:#4a3b8f;font-weight:700;left:784.10px;transform:translateX(-50%);-webkit-text-stroke:0.35px #4a3b8f;">22</span>
<span class="t" id="t169" style="top:421px;line-height:16px;font-size:14.00px;color:#4a3b8f;font-weight:700;left:820.38px;transform:translateX(-50%);-webkit-text-stroke:0.35px #4a3b8f;">23</span>
<span class="t" id="t170" style="top:421px;line-height:16px;font-size:14.00px;color:#4a3b8f;font-weight:700;left:856.67px;transform:translateX(-50%);-webkit-text-stroke:0.35px #4a3b8f;">24</span>
<span class="t" id="t171" style="top:421px;line-height:16px;font-size:14.00px;color:#4a3b8f;font-weight:700;left:892.95px;transform:translateX(-50%);-webkit-text-stroke:0.35px #4a3b8f;">25</span>
<span class="t" id="t172" style="top:421px;line-height:16px;font-size:14.00px;color:#4a3b8f;font-weight:700;left:929.23px;transform:translateX(-50%);-webkit-text-stroke:0.35px #4a3b8f;">26</span>
<span class="t" id="t173" style="top:421px;line-height:16px;font-size:14.00px;color:#4a3b8f;font-weight:700;left:965.52px;transform:translateX(-50%);-webkit-text-stroke:0.35px #4a3b8f;">27</span>
<span class="t" id="t174" style="top:421px;line-height:16px;font-size:14.00px;color:#4a3b8f;font-weight:700;left:1001.80px;transform:translateX(-50%);-webkit-text-stroke:0.35px #4a3b8f;">28</span>
<span class="t" id="t175" style="top:449px;line-height:16px;font-size:14.00px;color:#4a3b8f;font-weight:700;left:784.10px;transform:translateX(-50%);-webkit-text-stroke:0.35px #4a3b8f;">29</span>
<span class="t" id="t176" style="top:449px;line-height:16px;font-size:14.00px;color:#4a3b8f;font-weight:700;left:820.38px;transform:translateX(-50%);-webkit-text-stroke:0.35px #4a3b8f;">30</span>
<span class="t" id="t177" style="top:449px;line-height:16px;font-size:14.00px;color:#4a3b8f;font-weight:700;left:856.67px;transform:translateX(-50%);-webkit-text-stroke:0.35px #4a3b8f;">31</span>
<span class="t" id="t178" style="top:503px;line-height:19px;font-size:17.00px;color:#4c3c96;font-weight:700;left:521.55px;transform-origin:0 0;transform:scaleX(0.9498);-webkit-text-stroke:0.6px #4c3c96;">NOVEMBER</span>
<span class="t" id="t179" style="top:503px;line-height:19px;font-size:17.00px;color:#4c3c96;font-weight:700;letter-spacing:1.124px;left:619.85px;-webkit-text-stroke:0.6px #4c3c96;">2023</span>
<span class="t" id="t180" style="top:535px;line-height:12px;font-size:10.50px;color:#2fb0da;font-weight:700;left:480.80px;transform:translateX(-50%);-webkit-text-stroke:0.4px #2fb0da;">S</span>
<span class="t" id="t181" style="top:535px;line-height:12px;font-size:10.50px;color:#2fb0da;font-weight:700;left:517.10px;transform:translateX(-50%);-webkit-text-stroke:0.4px #2fb0da;">M</span>
<span class="t" id="t182" style="top:535px;line-height:12px;font-size:10.50px;color:#2fb0da;font-weight:700;left:553.40px;transform:translateX(-50%);-webkit-text-stroke:0.4px #2fb0da;">T</span>
<span class="t" id="t183" style="top:535px;line-height:12px;font-size:10.50px;color:#2fb0da;font-weight:700;left:589.70px;transform:translateX(-50%);-webkit-text-stroke:0.4px #2fb0da;">W</span>
<span class="t" id="t184" style="top:535px;line-height:12px;font-size:10.50px;color:#2fb0da;font-weight:700;left:626.00px;transform:translateX(-50%);-webkit-text-stroke:0.4px #2fb0da;">T</span>
<span class="t" id="t185" style="top:535px;line-height:12px;font-size:10.50px;color:#2fb0da;font-weight:700;left:662.30px;transform:translateX(-50%);-webkit-text-stroke:0.4px #2fb0da;">F</span>
<span class="t" id="t186" style="top:535px;line-height:12px;font-size:10.50px;color:#2fb0da;font-weight:700;left:698.60px;transform:translateX(-50%);-webkit-text-stroke:0.4px #2fb0da;">S</span>
<span class="t" id="t187" style="top:560px;line-height:16px;font-size:14.00px;color:#4a3b8f;font-weight:700;left:589.70px;transform:translateX(-50%);-webkit-text-stroke:0.35px #4a3b8f;">1</span>
<span class="t" id="t188" style="top:560px;line-height:16px;font-size:14.00px;color:#4a3b8f;font-weight:700;left:626.00px;transform:translateX(-50%);-webkit-text-stroke:0.35px #4a3b8f;">2</span>
<span class="t" id="t189" style="top:560px;line-height:16px;font-size:14.00px;color:#4a3b8f;font-weight:700;left:662.30px;transform:translateX(-50%);-webkit-text-stroke:0.35px #4a3b8f;">3</span>
<span class="t" id="t190" style="top:560px;line-height:16px;font-size:14.00px;color:#4a3b8f;font-weight:700;left:698.60px;transform:translateX(-50%);-webkit-text-stroke:0.35px #4a3b8f;">4</span>
<span class="t" id="t191" style="top:588px;line-height:16px;font-size:14.00px;color:#4a3b8f;font-weight:700;left:480.80px;transform:translateX(-50%);-webkit-text-stroke:0.35px #4a3b8f;">5</span>
<span class="t" id="t192" style="top:588px;line-height:16px;font-size:14.00px;color:#4a3b8f;font-weight:700;left:517.10px;transform:translateX(-50%);-webkit-text-stroke:0.35px #4a3b8f;">6</span>
<span class="t" id="t193" style="top:588px;line-height:16px;font-size:14.00px;color:#4a3b8f;font-weight:700;left:553.40px;transform:translateX(-50%);-webkit-text-stroke:0.35px #4a3b8f;">7</span>
<span class="t" id="t194" style="top:588px;line-height:16px;font-size:14.00px;color:#4a3b8f;font-weight:700;left:589.70px;transform:translateX(-50%);-webkit-text-stroke:0.35px #4a3b8f;">8</span>
<span class="t" id="t195" style="top:588px;line-height:16px;font-size:14.00px;color:#4a3b8f;font-weight:700;left:626.00px;transform:translateX(-50%);-webkit-text-stroke:0.35px #4a3b8f;">9</span>
<span class="t" id="t196" style="top:588px;line-height:16px;font-size:14.00px;color:#fff;left:662.30px;transform:translateX(-50%);-webkit-text-stroke:0.45px #fff;">10</span>
<span class="t" id="t197" style="top:588px;line-height:16px;font-size:14.00px;color:#4a3b8f;font-weight:700;left:698.60px;transform:translateX(-50%);-webkit-text-stroke:0.35px #4a3b8f;">11</span>
<span class="t" id="t198" style="top:614px;line-height:16px;font-size:14.00px;color:#4a3b8f;font-weight:700;left:480.80px;transform:translateX(-50%);-webkit-text-stroke:0.35px #4a3b8f;">12</span>
<span class="t" id="t199" style="top:614px;line-height:16px;font-size:14.00px;color:#4a3b8f;font-weight:700;left:517.10px;transform:translateX(-50%);-webkit-text-stroke:0.35px #4a3b8f;">13</span>
<span class="t" id="t200" style="top:614px;line-height:16px;font-size:14.00px;color:#4a3b8f;font-weight:700;left:553.40px;transform:translateX(-50%);-webkit-text-stroke:0.35px #4a3b8f;">14</span>
<span class="t" id="t201" style="top:614px;line-height:16px;font-size:14.00px;color:#4a3b8f;font-weight:700;left:589.70px;transform:translateX(-50%);-webkit-text-stroke:0.35px #4a3b8f;">15</span>
<span class="t" id="t202" style="top:614px;line-height:16px;font-size:14.00px;color:#4a3b8f;font-weight:700;left:626.00px;transform:translateX(-50%);-webkit-text-stroke:0.35px #4a3b8f;">16</span>
<span class="t" id="t203" style="top:614px;line-height:16px;font-size:14.00px;color:#4a3b8f;font-weight:700;left:662.30px;transform:translateX(-50%);-webkit-text-stroke:0.35px #4a3b8f;">17</span>
<span class="t" id="t204" style="top:614px;line-height:16px;font-size:14.00px;color:#4a3b8f;font-weight:700;left:698.60px;transform:translateX(-50%);-webkit-text-stroke:0.35px #4a3b8f;">18</span>
<span class="t" id="t205" style="top:642px;line-height:16px;font-size:14.00px;color:#4a3b8f;font-weight:700;left:480.80px;transform:translateX(-50%);-webkit-text-stroke:0.35px #4a3b8f;">19</span>
<span class="t" id="t206" style="top:642px;line-height:16px;font-size:14.00px;color:#4a3b8f;font-weight:700;left:517.10px;transform:translateX(-50%);-webkit-text-stroke:0.35px #4a3b8f;">20</span>
<span class="t" id="t207" style="top:642px;line-height:16px;font-size:14.00px;color:#4a3b8f;font-weight:700;left:553.40px;transform:translateX(-50%);-webkit-text-stroke:0.35px #4a3b8f;">21</span>
<span class="t" id="t208" style="top:642px;line-height:16px;font-size:14.00px;color:#fff;left:589.70px;transform:translateX(-50%);-webkit-text-stroke:0.45px #fff;">22</span>
<span class="t" id="t209" style="top:642px;line-height:16px;font-size:14.00px;color:#fff;left:626.00px;transform:translateX(-50%);-webkit-text-stroke:0.45px #fff;">23</span>
<span class="t" id="t210" style="top:642px;line-height:16px;font-size:14.00px;color:#fff;left:662.30px;transform:translateX(-50%);-webkit-text-stroke:0.45px #fff;">24</span>
<span class="t" id="t211" style="top:642px;line-height:16px;font-size:14.00px;color:#4a3b8f;font-weight:700;left:698.60px;transform:translateX(-50%);-webkit-text-stroke:0.35px #4a3b8f;">25</span>
<span class="t" id="t212" style="top:670px;line-height:16px;font-size:14.00px;color:#4a3b8f;font-weight:700;left:480.80px;transform:translateX(-50%);-webkit-text-stroke:0.35px #4a3b8f;">26</span>
<span class="t" id="t213" style="top:670px;line-height:16px;font-size:14.00px;color:#4a3b8f;font-weight:700;left:517.10px;transform:translateX(-50%);-webkit-text-stroke:0.35px #4a3b8f;">27</span>
<span class="t" id="t214" style="top:670px;line-height:16px;font-size:14.00px;color:#4a3b8f;font-weight:700;left:553.40px;transform:translateX(-50%);-webkit-text-stroke:0.35px #4a3b8f;">28</span>
<span class="t" id="t215" style="top:670px;line-height:16px;font-size:14.00px;color:#4a3b8f;font-weight:700;left:589.70px;transform:translateX(-50%);-webkit-text-stroke:0.35px #4a3b8f;">29</span>
<span class="t" id="t216" style="top:670px;line-height:16px;font-size:14.00px;color:#4a3b8f;font-weight:700;left:626.00px;transform:translateX(-50%);-webkit-text-stroke:0.35px #4a3b8f;">30</span>
<span class="t" id="t217" style="top:502px;line-height:19px;font-size:17.00px;color:#4c3c96;font-weight:700;left:825.80px;transform-origin:0 0;transform:scaleX(0.9271);-webkit-text-stroke:0.6px #4c3c96;">DECEMBER</span>
<span class="t" id="t218" style="top:502px;line-height:19px;font-size:17.00px;color:#4c3c96;font-weight:700;letter-spacing:1.124px;left:921.00px;-webkit-text-stroke:0.6px #4c3c96;">2023</span>
<span class="t" id="t219" style="top:534px;line-height:12px;font-size:10.50px;color:#2fb0da;font-weight:700;left:782.80px;transform:translateX(-50%);-webkit-text-stroke:0.4px #2fb0da;">S</span>
<span class="t" id="t220" style="top:534px;line-height:12px;font-size:10.50px;color:#2fb0da;font-weight:700;left:819.03px;transform:translateX(-50%);-webkit-text-stroke:0.4px #2fb0da;">M</span>
<span class="t" id="t221" style="top:534px;line-height:12px;font-size:10.50px;color:#2fb0da;font-weight:700;left:855.27px;transform:translateX(-50%);-webkit-text-stroke:0.4px #2fb0da;">T</span>
<span class="t" id="t222" style="top:534px;line-height:12px;font-size:10.50px;color:#2fb0da;font-weight:700;left:891.50px;transform:translateX(-50%);-webkit-text-stroke:0.4px #2fb0da;">W</span>
<span class="t" id="t223" style="top:534px;line-height:12px;font-size:10.50px;color:#2fb0da;font-weight:700;left:927.73px;transform:translateX(-50%);-webkit-text-stroke:0.4px #2fb0da;">T</span>
<span class="t" id="t224" style="top:534px;line-height:12px;font-size:10.50px;color:#2fb0da;font-weight:700;left:963.97px;transform:translateX(-50%);-webkit-text-stroke:0.4px #2fb0da;">F</span>
<span class="t" id="t225" style="top:534px;line-height:12px;font-size:10.50px;color:#2fb0da;font-weight:700;left:1000.20px;transform:translateX(-50%);-webkit-text-stroke:0.4px #2fb0da;">S</span>
<span class="t" id="t226" style="top:559px;line-height:16px;font-size:14.00px;color:#4a3b8f;font-weight:700;left:963.97px;transform:translateX(-50%);-webkit-text-stroke:0.35px #4a3b8f;">1</span>
<span class="t" id="t227" style="top:559px;line-height:16px;font-size:14.00px;color:#4a3b8f;font-weight:700;left:1000.20px;transform:translateX(-50%);-webkit-text-stroke:0.35px #4a3b8f;">2</span>
<span class="t" id="t228" style="top:587px;line-height:16px;font-size:14.00px;color:#4a3b8f;font-weight:700;left:782.80px;transform:translateX(-50%);-webkit-text-stroke:0.35px #4a3b8f;">3</span>
<span class="t" id="t229" style="top:587px;line-height:16px;font-size:14.00px;color:#4a3b8f;font-weight:700;left:819.03px;transform:translateX(-50%);-webkit-text-stroke:0.35px #4a3b8f;">4</span>
<span class="t" id="t230" style="top:587px;line-height:16px;font-size:14.00px;color:#4a3b8f;font-weight:700;left:855.27px;transform:translateX(-50%);-webkit-text-stroke:0.35px #4a3b8f;">5</span>
<span class="t" id="t231" style="top:587px;line-height:16px;font-size:14.00px;color:#4a3b8f;font-weight:700;left:891.50px;transform:translateX(-50%);-webkit-text-stroke:0.35px #4a3b8f;">6</span>
<span class="t" id="t232" style="top:587px;line-height:16px;font-size:14.00px;color:#4a3b8f;font-weight:700;left:927.73px;transform:translateX(-50%);-webkit-text-stroke:0.35px #4a3b8f;">7</span>
<span class="t" id="t233" style="top:587px;line-height:16px;font-size:14.00px;color:#4a3b8f;font-weight:700;left:963.97px;transform:translateX(-50%);-webkit-text-stroke:0.35px #4a3b8f;">8</span>
<span class="t" id="t234" style="top:587px;line-height:16px;font-size:14.00px;color:#4a3b8f;font-weight:700;left:1000.20px;transform:translateX(-50%);-webkit-text-stroke:0.35px #4a3b8f;">9</span>
<span class="t" id="t235" style="top:614px;line-height:16px;font-size:14.00px;color:#4a3b8f;font-weight:700;left:782.80px;transform:translateX(-50%);-webkit-text-stroke:0.35px #4a3b8f;">10</span>
<span class="t" id="t236" style="top:614px;line-height:16px;font-size:14.00px;color:#4a3b8f;font-weight:700;left:819.03px;transform:translateX(-50%);-webkit-text-stroke:0.35px #4a3b8f;">11</span>
<span class="t" id="t237" style="top:614px;line-height:16px;font-size:14.00px;color:#4a3b8f;font-weight:700;left:855.27px;transform:translateX(-50%);-webkit-text-stroke:0.35px #4a3b8f;">12</span>
<span class="t" id="t238" style="top:614px;line-height:16px;font-size:14.00px;color:#4a3b8f;font-weight:700;left:891.50px;transform:translateX(-50%);-webkit-text-stroke:0.35px #4a3b8f;">13</span>
<span class="t" id="t239" style="top:614px;line-height:16px;font-size:14.00px;color:#5a4378;font-weight:700;left:927.73px;transform:translateX(-50%);-webkit-text-stroke:0.35px #5a4378;">14</span>
<span class="t" id="t240" style="top:614px;line-height:16px;font-size:14.00px;color:#5a4378;font-weight:700;left:963.97px;transform:translateX(-50%);-webkit-text-stroke:0.35px #5a4378;">15</span>
<span class="t" id="t241" style="top:614px;line-height:16px;font-size:14.00px;color:#4a3b8f;font-weight:700;left:1000.20px;transform:translateX(-50%);-webkit-text-stroke:0.35px #4a3b8f;">16</span>
<span class="t" id="t242" style="top:640px;line-height:16px;font-size:14.00px;color:#4a3b8f;font-weight:700;left:782.80px;transform:translateX(-50%);-webkit-text-stroke:0.35px #4a3b8f;">17</span>
<span class="t" id="t243" style="top:640px;line-height:16px;font-size:14.00px;color:#fff;left:819.03px;transform:translateX(-50%);-webkit-text-stroke:0.45px #fff;">18</span>
<span class="t" id="t244" style="top:640px;line-height:16px;font-size:14.00px;color:#fff;left:855.27px;transform:translateX(-50%);-webkit-text-stroke:0.45px #fff;">19</span>
<span class="t" id="t245" style="top:640px;line-height:16px;font-size:14.00px;color:#fff;left:891.50px;transform:translateX(-50%);-webkit-text-stroke:0.45px #fff;">20</span>
<span class="t" id="t246" style="top:640px;line-height:16px;font-size:14.00px;color:#fff;left:927.73px;transform:translateX(-50%);-webkit-text-stroke:0.45px #fff;">21</span>
<span class="t" id="t247" style="top:640px;line-height:16px;font-size:14.00px;color:#fff;left:963.97px;transform:translateX(-50%);-webkit-text-stroke:0.45px #fff;">22</span>
<span class="t" id="t248" style="top:640px;line-height:16px;font-size:14.00px;color:#4a3b8f;font-weight:700;left:1000.20px;transform:translateX(-50%);-webkit-text-stroke:0.35px #4a3b8f;">23</span>
<span class="t" id="t249" style="top:668px;line-height:16px;font-size:14.00px;color:#4a3b8f;font-weight:700;left:782.80px;transform:translateX(-50%);-webkit-text-stroke:0.35px #4a3b8f;">24</span>
<span class="t" id="t250" style="top:668px;line-height:16px;font-size:14.00px;color:#fff;left:819.03px;transform:translateX(-50%);-webkit-text-stroke:0.45px #fff;">25</span>
<span class="t" id="t251" style="top:668px;line-height:16px;font-size:14.00px;color:#fff;left:855.27px;transform:translateX(-50%);-webkit-text-stroke:0.45px #fff;">26</span>
<span class="t" id="t252" style="top:668px;line-height:16px;font-size:14.00px;color:#fff;left:891.50px;transform:translateX(-50%);-webkit-text-stroke:0.45px #fff;">27</span>
<span class="t" id="t253" style="top:668px;line-height:16px;font-size:14.00px;color:#fff;left:927.73px;transform:translateX(-50%);-webkit-text-stroke:0.45px #fff;">28</span>
<span class="t" id="t254" style="top:668px;line-height:16px;font-size:14.00px;color:#fff;left:963.97px;transform:translateX(-50%);-webkit-text-stroke:0.45px #fff;">29</span>
<span class="t" id="t255" style="top:668px;line-height:16px;font-size:14.00px;color:#4a3b8f;font-weight:700;left:1000.20px;transform:translateX(-50%);-webkit-text-stroke:0.35px #4a3b8f;">30</span>
<span class="t" id="t256" style="top:695px;line-height:16px;font-size:14.00px;color:#4a3b8f;font-weight:700;left:779.60px;transform:translateX(-50%);-webkit-text-stroke:0.35px #4a3b8f;">31</span>
<span class="t" id="t257" style="top:728px;line-height:19px;font-size:17.00px;color:#4c3c96;font-weight:700;left:526.50px;transform-origin:0 0;transform:scaleX(0.9761);-webkit-text-stroke:0.6px #4c3c96;">JANUARY</span>
<span class="t" id="t258" style="top:728px;line-height:19px;font-size:17.00px;color:#4c3c96;font-weight:700;letter-spacing:1.124px;left:611.10px;-webkit-text-stroke:0.6px #4c3c96;">2024</span>
<span class="t" id="t259" style="top:760px;line-height:12px;font-size:10.50px;color:#2fb0da;font-weight:700;left:478.70px;transform:translateX(-50%);-webkit-text-stroke:0.4px #2fb0da;">S</span>
<span class="t" id="t260" style="top:760px;line-height:12px;font-size:10.50px;color:#2fb0da;font-weight:700;left:514.98px;transform:translateX(-50%);-webkit-text-stroke:0.4px #2fb0da;">M</span>
<span class="t" id="t261" style="top:760px;line-height:12px;font-size:10.50px;color:#2fb0da;font-weight:700;left:551.27px;transform:translateX(-50%);-webkit-text-stroke:0.4px #2fb0da;">T</span>
<span class="t" id="t262" style="top:760px;line-height:12px;font-size:10.50px;color:#2fb0da;font-weight:700;left:587.55px;transform:translateX(-50%);-webkit-text-stroke:0.4px #2fb0da;">W</span>
<span class="t" id="t263" style="top:760px;line-height:12px;font-size:10.50px;color:#2fb0da;font-weight:700;left:623.83px;transform:translateX(-50%);-webkit-text-stroke:0.4px #2fb0da;">T</span>
<span class="t" id="t264" style="top:760px;line-height:12px;font-size:10.50px;color:#2fb0da;font-weight:700;left:660.12px;transform:translateX(-50%);-webkit-text-stroke:0.4px #2fb0da;">F</span>
<span class="t" id="t265" style="top:760px;line-height:12px;font-size:10.50px;color:#2fb0da;font-weight:700;left:696.40px;transform:translateX(-50%);-webkit-text-stroke:0.4px #2fb0da;">S</span>
<span class="t" id="t266" style="top:785px;line-height:16px;font-size:14.00px;color:#fff;left:514.98px;transform:translateX(-50%);-webkit-text-stroke:0.45px #fff;">1</span>
<span class="t" id="t267" style="top:785px;line-height:16px;font-size:14.00px;color:#5a4378;font-weight:700;left:551.27px;transform:translateX(-50%);-webkit-text-stroke:0.35px #5a4378;">2</span>
<span class="t" id="t268" style="top:785px;line-height:16px;font-size:14.00px;color:#4a3b8f;font-weight:700;left:587.55px;transform:translateX(-50%);-webkit-text-stroke:0.35px #4a3b8f;">3</span>
<span class="t" id="t269" style="top:785px;line-height:16px;font-size:14.00px;color:#4a3b8f;font-weight:700;left:623.83px;transform:translateX(-50%);-webkit-text-stroke:0.35px #4a3b8f;">4</span>
<span class="t" id="t270" style="top:785px;line-height:16px;font-size:14.00px;color:#4a3b8f;font-weight:700;left:660.12px;transform:translateX(-50%);-webkit-text-stroke:0.35px #4a3b8f;">5</span>
<span class="t" id="t271" style="top:785px;line-height:16px;font-size:14.00px;color:#4a3b8f;font-weight:700;left:696.40px;transform:translateX(-50%);-webkit-text-stroke:0.35px #4a3b8f;">6</span>
<span class="t" id="t272" style="top:813px;line-height:16px;font-size:14.00px;color:#4a3b8f;font-weight:700;left:478.70px;transform:translateX(-50%);-webkit-text-stroke:0.35px #4a3b8f;">7</span>
<span class="t" id="t273" style="top:813px;line-height:16px;font-size:14.00px;color:#4a3b8f;font-weight:700;left:514.98px;transform:translateX(-50%);-webkit-text-stroke:0.35px #4a3b8f;">8</span>
<span class="t" id="t274" style="top:813px;line-height:16px;font-size:14.00px;color:#4a3b8f;font-weight:700;left:551.27px;transform:translateX(-50%);-webkit-text-stroke:0.35px #4a3b8f;">9</span>
<span class="t" id="t275" style="top:813px;line-height:16px;font-size:14.00px;color:#4a3b8f;font-weight:700;left:587.55px;transform:translateX(-50%);-webkit-text-stroke:0.35px #4a3b8f;">10</span>
<span class="t" id="t276" style="top:813px;line-height:16px;font-size:14.00px;color:#4a3b8f;font-weight:700;left:623.83px;transform:translateX(-50%);-webkit-text-stroke:0.35px #4a3b8f;">11</span>
<span class="t" id="t277" style="top:813px;line-height:16px;font-size:14.00px;color:#4a3b8f;font-weight:700;left:660.12px;transform:translateX(-50%);-webkit-text-stroke:0.35px #4a3b8f;">12</span>
<span class="t" id="t278" style="top:813px;line-height:16px;font-size:14.00px;color:#4a3b8f;font-weight:700;left:696.40px;transform:translateX(-50%);-webkit-text-stroke:0.35px #4a3b8f;">13</span>
<span class="t" id="t279" style="top:839px;line-height:16px;font-size:14.00px;color:#4a3b8f;font-weight:700;left:478.70px;transform:translateX(-50%);-webkit-text-stroke:0.35px #4a3b8f;">14</span>
<span class="t" id="t280" style="top:839px;line-height:16px;font-size:14.00px;color:#fff;left:514.98px;transform:translateX(-50%);-webkit-text-stroke:0.45px #fff;">15</span>
<span class="t" id="t281" style="top:839px;line-height:16px;font-size:14.00px;color:#4a3b8f;font-weight:700;left:551.27px;transform:translateX(-50%);-webkit-text-stroke:0.35px #4a3b8f;">16</span>
<span class="t" id="t282" style="top:839px;line-height:16px;font-size:14.00px;color:#4a3b8f;font-weight:700;left:587.55px;transform:translateX(-50%);-webkit-text-stroke:0.35px #4a3b8f;">17</span>
<span class="t" id="t283" style="top:839px;line-height:16px;font-size:14.00px;color:#4a3b8f;font-weight:700;left:623.83px;transform:translateX(-50%);-webkit-text-stroke:0.35px #4a3b8f;">18</span>
<span class="t" id="t284" style="top:839px;line-height:16px;font-size:14.00px;color:#4a3b8f;font-weight:700;left:660.12px;transform:translateX(-50%);-webkit-text-stroke:0.35px #4a3b8f;">19</span>
<span class="t" id="t285" style="top:839px;line-height:16px;font-size:14.00px;color:#4a3b8f;font-weight:700;left:696.40px;transform:translateX(-50%);-webkit-text-stroke:0.35px #4a3b8f;">20</span>
<span class="t" id="t286" style="top:867px;line-height:16px;font-size:14.00px;color:#4a3b8f;font-weight:700;left:478.70px;transform:translateX(-50%);-webkit-text-stroke:0.35px #4a3b8f;">21</span>
<span class="t" id="t287" style="top:867px;line-height:16px;font-size:14.00px;color:#4a3b8f;font-weight:700;left:514.98px;transform:translateX(-50%);-webkit-text-stroke:0.35px #4a3b8f;">22</span>
<span class="t" id="t288" style="top:867px;line-height:16px;font-size:14.00px;color:#4a3b8f;font-weight:700;left:551.27px;transform:translateX(-50%);-webkit-text-stroke:0.35px #4a3b8f;">23</span>
<span class="t" id="t289" style="top:867px;line-height:16px;font-size:14.00px;color:#4a3b8f;font-weight:700;left:587.55px;transform:translateX(-50%);-webkit-text-stroke:0.35px #4a3b8f;">24</span>
<span class="t" id="t290" style="top:867px;line-height:16px;font-size:14.00px;color:#fff;left:623.83px;transform:translateX(-50%);-webkit-text-stroke:0.45px #fff;">25</span>
<span class="t" id="t291" style="top:867px;line-height:16px;font-size:14.00px;color:#4a3b8f;font-weight:700;left:660.12px;transform:translateX(-50%);-webkit-text-stroke:0.35px #4a3b8f;">26</span>
<span class="t" id="t292" style="top:867px;line-height:16px;font-size:14.00px;color:#4a3b8f;font-weight:700;left:696.40px;transform:translateX(-50%);-webkit-text-stroke:0.35px #4a3b8f;">27</span>
<span class="t" id="t293" style="top:895px;line-height:16px;font-size:14.00px;color:#4a3b8f;font-weight:700;left:478.70px;transform:translateX(-50%);-webkit-text-stroke:0.35px #4a3b8f;">28</span>
<span class="t" id="t294" style="top:895px;line-height:16px;font-size:14.00px;color:#4a3b8f;font-weight:700;left:514.98px;transform:translateX(-50%);-webkit-text-stroke:0.35px #4a3b8f;">29</span>
<span class="t" id="t295" style="top:895px;line-height:16px;font-size:14.00px;color:#4a3b8f;font-weight:700;left:551.27px;transform:translateX(-50%);-webkit-text-stroke:0.35px #4a3b8f;">30</span>
<span class="t" id="t296" style="top:895px;line-height:16px;font-size:14.00px;color:#4a3b8f;font-weight:700;left:587.55px;transform:translateX(-50%);-webkit-text-stroke:0.35px #4a3b8f;">31</span>
<span class="t" id="t297" style="top:728px;line-height:19px;font-size:17.00px;color:#4c3c96;font-weight:700;left:825.80px;transform-origin:0 0;transform:scaleX(0.9485);-webkit-text-stroke:0.6px #4c3c96;">FEBRUARY</span>
<span class="t" id="t298" style="top:728px;line-height:19px;font-size:17.00px;color:#4c3c96;font-weight:700;letter-spacing:1.124px;left:919.80px;-webkit-text-stroke:0.6px #4c3c96;">2024</span>
<span class="t" id="t299" style="top:760px;line-height:12px;font-size:10.50px;color:#2fb0da;font-weight:700;left:782.80px;transform:translateX(-50%);-webkit-text-stroke:0.4px #2fb0da;">S</span>
<span class="t" id="t300" style="top:760px;line-height:12px;font-size:10.50px;color:#2fb0da;font-weight:700;left:819.03px;transform:translateX(-50%);-webkit-text-stroke:0.4px #2fb0da;">M</span>
<span class="t" id="t301" style="top:760px;line-height:12px;font-size:10.50px;color:#2fb0da;font-weight:700;left:855.27px;transform:translateX(-50%);-webkit-text-stroke:0.4px #2fb0da;">T</span>
<span class="t" id="t302" style="top:760px;line-height:12px;font-size:10.50px;color:#2fb0da;font-weight:700;left:891.50px;transform:translateX(-50%);-webkit-text-stroke:0.4px #2fb0da;">W</span>
<span class="t" id="t303" style="top:760px;line-height:12px;font-size:10.50px;color:#2fb0da;font-weight:700;left:927.73px;transform:translateX(-50%);-webkit-text-stroke:0.4px #2fb0da;">T</span>
<span class="t" id="t304" style="top:760px;line-height:12px;font-size:10.50px;color:#2fb0da;font-weight:700;left:963.97px;transform:translateX(-50%);-webkit-text-stroke:0.4px #2fb0da;">F</span>
<span class="t" id="t305" style="top:760px;line-height:12px;font-size:10.50px;color:#2fb0da;font-weight:700;left:1000.20px;transform:translateX(-50%);-webkit-text-stroke:0.4px #2fb0da;">S</span>
<span class="t" id="t306" style="top:785px;line-height:16px;font-size:14.00px;color:#4a3b8f;font-weight:700;left:927.73px;transform:translateX(-50%);-webkit-text-stroke:0.35px #4a3b8f;">1</span>
<span class="t" id="t307" style="top:785px;line-height:16px;font-size:14.00px;color:#4a3b8f;font-weight:700;left:963.97px;transform:translateX(-50%);-webkit-text-stroke:0.35px #4a3b8f;">2</span>
<span class="t" id="t308" style="top:785px;line-height:16px;font-size:14.00px;color:#4a3b8f;font-weight:700;left:1000.20px;transform:translateX(-50%);-webkit-text-stroke:0.35px #4a3b8f;">3</span>
<span class="t" id="t309" style="top:813px;line-height:16px;font-size:14.00px;color:#4a3b8f;font-weight:700;left:782.80px;transform:translateX(-50%);-webkit-text-stroke:0.35px #4a3b8f;">4</span>
<span class="t" id="t310" style="top:813px;line-height:16px;font-size:14.00px;color:#4a3b8f;font-weight:700;left:819.03px;transform:translateX(-50%);-webkit-text-stroke:0.35px #4a3b8f;">5</span>
<span class="t" id="t311" style="top:813px;line-height:16px;font-size:14.00px;color:#4a3b8f;font-weight:700;left:855.27px;transform:translateX(-50%);-webkit-text-stroke:0.35px #4a3b8f;">6</span>
<span class="t" id="t312" style="top:813px;line-height:16px;font-size:14.00px;color:#4a3b8f;font-weight:700;left:891.50px;transform:translateX(-50%);-webkit-text-stroke:0.35px #4a3b8f;">7</span>
<span class="t" id="t313" style="top:813px;line-height:16px;font-size:14.00px;color:#4a3b8f;font-weight:700;left:927.73px;transform:translateX(-50%);-webkit-text-stroke:0.35px #4a3b8f;">8</span>
<span class="t" id="t314" style="top:813px;line-height:16px;font-size:14.00px;color:#4a3b8f;font-weight:700;left:963.97px;transform:translateX(-50%);-webkit-text-stroke:0.35px #4a3b8f;">9</span>
<span class="t" id="t315" style="top:813px;line-height:16px;font-size:14.00px;color:#4a3b8f;font-weight:700;left:1000.20px;transform:translateX(-50%);-webkit-text-stroke:0.35px #4a3b8f;">10</span>
<span class="t" id="t316" style="top:839px;line-height:16px;font-size:14.00px;color:#4a3b8f;font-weight:700;left:782.80px;transform:translateX(-50%);-webkit-text-stroke:0.35px #4a3b8f;">11</span>
<span class="t" id="t317" style="top:839px;line-height:16px;font-size:14.00px;color:#4a3b8f;font-weight:700;left:819.03px;transform:translateX(-50%);-webkit-text-stroke:0.35px #4a3b8f;">12</span>
<span class="t" id="t318" style="top:839px;line-height:16px;font-size:14.00px;color:#4a3b8f;font-weight:700;left:855.27px;transform:translateX(-50%);-webkit-text-stroke:0.35px #4a3b8f;">13</span>
<span class="t" id="t319" style="top:839px;line-height:16px;font-size:14.00px;color:#4a3b8f;font-weight:700;left:891.50px;transform:translateX(-50%);-webkit-text-stroke:0.35px #4a3b8f;">14</span>
<span class="t" id="t320" style="top:839px;line-height:16px;font-size:14.00px;color:#4a3b8f;font-weight:700;left:927.73px;transform:translateX(-50%);-webkit-text-stroke:0.35px #4a3b8f;">15</span>
<span class="t" id="t321" style="top:839px;line-height:16px;font-size:14.00px;color:#4a3b8f;font-weight:700;left:963.97px;transform:translateX(-50%);-webkit-text-stroke:0.35px #4a3b8f;">16</span>
<span class="t" id="t322" style="top:839px;line-height:16px;font-size:14.00px;color:#4a3b8f;font-weight:700;left:1000.20px;transform:translateX(-50%);-webkit-text-stroke:0.35px #4a3b8f;">17</span>
<span class="t" id="t323" style="top:867px;line-height:16px;font-size:14.00px;color:#4a3b8f;font-weight:700;left:782.80px;transform:translateX(-50%);-webkit-text-stroke:0.35px #4a3b8f;">18</span>
<span class="t" id="t324" style="top:867px;line-height:16px;font-size:14.00px;color:#fff;left:819.03px;transform:translateX(-50%);-webkit-text-stroke:0.45px #fff;">19</span>
<span class="t" id="t325" style="top:867px;line-height:16px;font-size:14.00px;color:#4a3b8f;font-weight:700;left:855.27px;transform:translateX(-50%);-webkit-text-stroke:0.35px #4a3b8f;">20</span>
<span class="t" id="t326" style="top:867px;line-height:16px;font-size:14.00px;color:#4a3b8f;font-weight:700;left:891.50px;transform:translateX(-50%);-webkit-text-stroke:0.35px #4a3b8f;">21</span>
<span class="t" id="t327" style="top:867px;line-height:16px;font-size:14.00px;color:#fff;left:927.73px;transform:translateX(-50%);-webkit-text-stroke:0.45px #fff;">22</span>
<span class="t" id="t328" style="top:867px;line-height:16px;font-size:14.00px;color:#fff;left:963.97px;transform:translateX(-50%);-webkit-text-stroke:0.45px #fff;">23</span>
<span class="t" id="t329" style="top:867px;line-height:16px;font-size:14.00px;color:#4a3b8f;font-weight:700;left:1000.20px;transform:translateX(-50%);-webkit-text-stroke:0.35px #4a3b8f;">24</span>
<span class="t" id="t330" style="top:895px;line-height:16px;font-size:14.00px;color:#4a3b8f;font-weight:700;left:782.80px;transform:translateX(-50%);-webkit-text-stroke:0.35px #4a3b8f;">25</span>
<span class="t" id="t331" style="top:895px;line-height:16px;font-size:14.00px;color:#4a3b8f;font-weight:700;left:819.03px;transform:translateX(-50%);-webkit-text-stroke:0.35px #4a3b8f;">26</span>
<span class="t" id="t332" style="top:895px;line-height:16px;font-size:14.00px;color:#4a3b8f;font-weight:700;left:855.27px;transform:translateX(-50%);-webkit-text-stroke:0.35px #4a3b8f;">27</span>
<span class="t" id="t333" style="top:895px;line-height:16px;font-size:14.00px;color:#4a3b8f;font-weight:700;left:891.50px;transform:translateX(-50%);-webkit-text-stroke:0.35px #4a3b8f;">28</span>
<span class="t" id="t334" style="top:895px;line-height:16px;font-size:14.00px;color:#4a3b8f;font-weight:700;left:927.73px;transform:translateX(-50%);-webkit-text-stroke:0.35px #4a3b8f;">29</span>
<span class="t" id="t335" style="top:945px;line-height:19px;font-size:17.00px;color:#4c3c96;font-weight:700;left:536.90px;transform-origin:0 0;transform:scaleX(0.9481);-webkit-text-stroke:0.6px #4c3c96;">MARCH</span>
<span class="t" id="t336" style="top:945px;line-height:19px;font-size:17.00px;color:#4c3c96;font-weight:700;letter-spacing:1.124px;left:601.90px;-webkit-text-stroke:0.6px #4c3c96;">2024</span>
<span class="t" id="t337" style="top:977px;line-height:12px;font-size:10.50px;color:#2fb0da;font-weight:700;left:478.70px;transform:translateX(-50%);-webkit-text-stroke:0.4px #2fb0da;">S</span>
<span class="t" id="t338" style="top:977px;line-height:12px;font-size:10.50px;color:#2fb0da;font-weight:700;left:515.00px;transform:translateX(-50%);-webkit-text-stroke:0.4px #2fb0da;">M</span>
<span class="t" id="t339" style="top:977px;line-height:12px;font-size:10.50px;color:#2fb0da;font-weight:700;left:551.30px;transform:translateX(-50%);-webkit-text-stroke:0.4px #2fb0da;">T</span>
<span class="t" id="t340" style="top:977px;line-height:12px;font-size:10.50px;color:#2fb0da;font-weight:700;left:587.60px;transform:translateX(-50%);-webkit-text-stroke:0.4px #2fb0da;">W</span>
<span class="t" id="t341" style="top:977px;line-height:12px;font-size:10.50px;color:#2fb0da;font-weight:700;left:623.90px;transform:translateX(-50%);-webkit-text-stroke:0.4px #2fb0da;">T</span>
<span class="t" id="t342" style="top:977px;line-height:12px;font-size:10.50px;color:#2fb0da;font-weight:700;left:660.20px;transform:translateX(-50%);-webkit-text-stroke:0.4px #2fb0da;">F</span>
<span class="t" id="t343" style="top:977px;line-height:12px;font-size:10.50px;color:#2fb0da;font-weight:700;left:696.50px;transform:translateX(-50%);-webkit-text-stroke:0.4px #2fb0da;">S</span>
<span class="t" id="t344" style="top:1001px;line-height:16px;font-size:14.00px;color:#4a3b8f;font-weight:700;left:660.20px;transform:translateX(-50%);-webkit-text-stroke:0.35px #4a3b8f;">1</span>
<span class="t" id="t345" style="top:1001px;line-height:16px;font-size:14.00px;color:#4a3b8f;font-weight:700;left:696.50px;transform:translateX(-50%);-webkit-text-stroke:0.35px #4a3b8f;">2</span>
<span class="t" id="t346" style="top:1028px;line-height:16px;font-size:14.00px;color:#4a3b8f;font-weight:700;left:478.70px;transform:translateX(-50%);-webkit-text-stroke:0.35px #4a3b8f;">3</span>
<span class="t" id="t347" style="top:1028px;line-height:16px;font-size:14.00px;color:#4a3b8f;font-weight:700;left:515.00px;transform:translateX(-50%);-webkit-text-stroke:0.35px #4a3b8f;">4</span>
<span class="t" id="t348" style="top:1028px;line-height:16px;font-size:14.00px;color:#5a4378;font-weight:700;left:551.30px;transform:translateX(-50%);-webkit-text-stroke:0.35px #5a4378;">5</span>
<span class="t" id="t349" style="top:1028px;line-height:16px;font-size:14.00px;color:#4a3b8f;font-weight:700;left:587.60px;transform:translateX(-50%);-webkit-text-stroke:0.35px #4a3b8f;">6</span>
<span class="t" id="t350" style="top:1028px;line-height:16px;font-size:14.00px;color:#4a3b8f;font-weight:700;left:623.90px;transform:translateX(-50%);-webkit-text-stroke:0.35px #4a3b8f;">7</span>
<span class="t" id="t351" style="top:1028px;line-height:16px;font-size:14.00px;color:#5a4378;font-weight:700;left:660.20px;transform:translateX(-50%);-webkit-text-stroke:0.35px #5a4378;">8</span>
<span class="t" id="t352" style="top:1028px;line-height:16px;font-size:14.00px;color:#4a3b8f;font-weight:700;left:696.50px;transform:translateX(-50%);-webkit-text-stroke:0.35px #4a3b8f;">9</span>
<span class="t" id="t353" style="top:1056px;line-height:16px;font-size:14.00px;color:#4a3b8f;font-weight:700;left:478.70px;transform:translateX(-50%);-webkit-text-stroke:0.35px #4a3b8f;">10</span>
<span class="t" id="t354" style="top:1056px;line-height:16px;font-size:14.00px;color:#fff;left:515.00px;transform:translateX(-50%);-webkit-text-stroke:0.45px #fff;">11</span>
<span class="t" id="t355" style="top:1056px;line-height:16px;font-size:14.00px;color:#fff;left:551.30px;transform:translateX(-50%);-webkit-text-stroke:0.45px #fff;">12</span>
<span class="t" id="t356" style="top:1056px;line-height:16px;font-size:14.00px;color:#fff;left:587.60px;transform:translateX(-50%);-webkit-text-stroke:0.45px #fff;">13</span>
<span class="t" id="t357" style="top:1056px;line-height:16px;font-size:14.00px;color:#fff;left:623.90px;transform:translateX(-50%);-webkit-text-stroke:0.45px #fff;">14</span>
<span class="t" id="t358" style="top:1056px;line-height:16px;font-size:14.00px;color:#fff;left:660.20px;transform:translateX(-50%);-webkit-text-stroke:0.45px #fff;">15</span>
<span class="t" id="t359" style="top:1056px;line-height:16px;font-size:14.00px;color:#4a3b8f;font-weight:700;left:696.50px;transform:translateX(-50%);-webkit-text-stroke:0.35px #4a3b8f;">16</span>
<span class="t" id="t360" style="top:1083px;line-height:16px;font-size:14.00px;color:#4a3b8f;font-weight:700;left:478.70px;transform:translateX(-50%);-webkit-text-stroke:0.35px #4a3b8f;">17</span>
<span class="t" id="t361" style="top:1083px;line-height:16px;font-size:14.00px;color:#4a3b8f;font-weight:700;left:515.00px;transform:translateX(-50%);-webkit-text-stroke:0.35px #4a3b8f;">18</span>
<span class="t" id="t362" style="top:1083px;line-height:16px;font-size:14.00px;color:#4a3b8f;font-weight:700;left:551.30px;transform:translateX(-50%);-webkit-text-stroke:0.35px #4a3b8f;">19</span>
<span class="t" id="t363" style="top:1083px;line-height:16px;font-size:14.00px;color:#4a3b8f;font-weight:700;left:587.60px;transform:translateX(-50%);-webkit-text-stroke:0.35px #4a3b8f;">20</span>
<span class="t" id="t364" style="top:1083px;line-height:16px;font-size:14.00px;color:#4a3b8f;font-weight:700;left:623.90px;transform:translateX(-50%);-webkit-text-stroke:0.35px #4a3b8f;">21</span>
<span class="t" id="t365" style="top:1083px;line-height:16px;font-size:14.00px;color:#4a3b8f;font-weight:700;left:660.20px;transform:translateX(-50%);-webkit-text-stroke:0.35px #4a3b8f;">22</span>
<span class="t" id="t366" style="top:1083px;line-height:16px;font-size:14.00px;color:#4a3b8f;font-weight:700;left:696.50px;transform:translateX(-50%);-webkit-text-stroke:0.35px #4a3b8f;">23</span>
<span class="t" id="t367" style="top:1111px;line-height:16px;font-size:14.00px;color:#4a3b8f;font-weight:700;left:478.70px;transform:translateX(-50%);-webkit-text-stroke:0.35px #4a3b8f;">24</span>
<span class="t" id="t368" style="top:1111px;line-height:16px;font-size:14.00px;color:#4a3b8f;font-weight:700;left:515.00px;transform:translateX(-50%);-webkit-text-stroke:0.35px #4a3b8f;">25</span>
<span class="t" id="t369" style="top:1111px;line-height:16px;font-size:14.00px;color:#4a3b8f;font-weight:700;left:551.30px;transform:translateX(-50%);-webkit-text-stroke:0.35px #4a3b8f;">26</span>
<span class="t" id="t370" style="top:1111px;line-height:16px;font-size:14.00px;color:#4a3b8f;font-weight:700;left:587.60px;transform:translateX(-50%);-webkit-text-stroke:0.35px #4a3b8f;">27</span>
<span class="t" id="t371" style="top:1111px;line-height:16px;font-size:14.00px;color:#4a3b8f;font-weight:700;left:623.90px;transform:translateX(-50%);-webkit-text-stroke:0.35px #4a3b8f;">28</span>
<span class="t" id="t372" style="top:1111px;line-height:16px;font-size:14.00px;color:#4a3b8f;font-weight:700;left:660.20px;transform:translateX(-50%);-webkit-text-stroke:0.35px #4a3b8f;">29</span>
<span class="t" id="t373" style="top:1111px;line-height:16px;font-size:14.00px;color:#4a3b8f;font-weight:700;left:696.50px;transform:translateX(-50%);-webkit-text-stroke:0.35px #4a3b8f;">30</span>
<span class="t" id="t374" style="top:1138px;line-height:16px;font-size:14.00px;color:#4a3b8f;font-weight:700;left:475.50px;transform:translateX(-50%);-webkit-text-stroke:0.35px #4a3b8f;">31</span>
<span class="t" id="t375" style="top:945px;line-height:19px;font-size:17.00px;color:#4c3c96;font-weight:700;left:845.60px;transform-origin:0 0;transform:scaleX(0.9765);-webkit-text-stroke:0.6px #4c3c96;">APRIL</span>
<span class="t" id="t376" style="top:945px;line-height:19px;font-size:17.00px;color:#4c3c96;font-weight:700;letter-spacing:1.124px;left:900.40px;-webkit-text-stroke:0.6px #4c3c96;">2024</span>
<span class="t" id="t377" style="top:977px;line-height:12px;font-size:10.50px;color:#2fb0da;font-weight:700;left:782.60px;transform:translateX(-50%);-webkit-text-stroke:0.4px #2fb0da;">S</span>
<span class="t" id="t378" style="top:977px;line-height:12px;font-size:10.50px;color:#2fb0da;font-weight:700;left:818.87px;transform:translateX(-50%);-webkit-text-stroke:0.4px #2fb0da;">M</span>
<span class="t" id="t379" style="top:977px;line-height:12px;font-size:10.50px;color:#2fb0da;font-weight:700;left:855.13px;transform:translateX(-50%);-webkit-text-stroke:0.4px #2fb0da;">T</span>
<span class="t" id="t380" style="top:977px;line-height:12px;font-size:10.50px;color:#2fb0da;font-weight:700;left:891.40px;transform:translateX(-50%);-webkit-text-stroke:0.4px #2fb0da;">W</span>
<span class="t" id="t381" style="top:977px;line-height:12px;font-size:10.50px;color:#2fb0da;font-weight:700;left:927.67px;transform:translateX(-50%);-webkit-text-stroke:0.4px #2fb0da;">T</span>
<span class="t" id="t382" style="top:977px;line-height:12px;font-size:10.50px;color:#2fb0da;font-weight:700;left:963.93px;transform:translateX(-50%);-webkit-text-stroke:0.4px #2fb0da;">F</span>
<span class="t" id="t383" style="top:977px;line-height:12px;font-size:10.50px;color:#2fb0da;font-weight:700;left:1000.20px;transform:translateX(-50%);-webkit-text-stroke:0.4px #2fb0da;">S</span>
<span class="t" id="t384" style="top:1001px;line-height:16px;font-size:14.00px;color:#fff;left:818.87px;transform:translateX(-50%);-webkit-text-stroke:0.45px #fff;">1</span>
<span class="t" id="t385" style="top:1001px;line-height:16px;font-size:14.00px;color:#4a3b8f;font-weight:700;left:855.13px;transform:translateX(-50%);-webkit-text-stroke:0.35px #4a3b8f;">2</span>
<span class="t" id="t386" style="top:1001px;line-height:16px;font-size:14.00px;color:#4a3b8f;font-weight:700;left:891.40px;transform:translateX(-50%);-webkit-text-stroke:0.35px #4a3b8f;">3</span>
<span class="t" id="t387" style="top:1001px;line-height:16px;font-size:14.00px;color:#4a3b8f;font-weight:700;left:927.67px;transform:translateX(-50%);-webkit-text-stroke:0.35px #4a3b8f;">4</span>
<span class="t" id="t388" style="top:1001px;line-height:16px;font-size:14.00px;color:#4a3b8f;font-weight:700;left:963.93px;transform:translateX(-50%);-webkit-text-stroke:0.35px #4a3b8f;">5</span>
<span class="t" id="t389" style="top:1001px;line-height:16px;font-size:14.00px;color:#4a3b8f;font-weight:700;left:1000.20px;transform:translateX(-50%);-webkit-text-stroke:0.35px #4a3b8f;">6</span>
<span class="t" id="t390" style="top:1028px;line-height:16px;font-size:14.00px;color:#4a3b8f;font-weight:700;left:782.60px;transform:translateX(-50%);-webkit-text-stroke:0.35px #4a3b8f;">7</span>
<span class="t" id="t391" style="top:1028px;line-height:16px;font-size:14.00px;color:#4a3b8f;font-weight:700;left:818.87px;transform:translateX(-50%);-webkit-text-stroke:0.35px #4a3b8f;">8</span>
<span class="t" id="t392" style="top:1028px;line-height:16px;font-size:14.00px;color:#4a3b8f;font-weight:700;left:855.13px;transform:translateX(-50%);-webkit-text-stroke:0.35px #4a3b8f;">9</span>
<span class="t" id="t393" style="top:1028px;line-height:16px;font-size:14.00px;color:#4a3b8f;font-weight:700;left:891.40px;transform:translateX(-50%);-webkit-text-stroke:0.35px #4a3b8f;">10</span>
<span class="t" id="t394" style="top:1028px;line-height:16px;font-size:14.00px;color:#4a3b8f;font-weight:700;left:927.67px;transform:translateX(-50%);-webkit-text-stroke:0.35px #4a3b8f;">11</span>
<span class="t" id="t395" style="top:1028px;line-height:16px;font-size:14.00px;color:#4a3b8f;font-weight:700;left:963.93px;transform:translateX(-50%);-webkit-text-stroke:0.35px #4a3b8f;">12</span>
<span class="t" id="t396" style="top:1028px;line-height:16px;font-size:14.00px;color:#4a3b8f;font-weight:700;left:1000.20px;transform:translateX(-50%);-webkit-text-stroke:0.35px #4a3b8f;">13</span>
<span class="t" id="t397" style="top:1056px;line-height:16px;font-size:14.00px;color:#4a3b8f;font-weight:700;left:782.60px;transform:translateX(-50%);-webkit-text-stroke:0.35px #4a3b8f;">14</span>
<span class="t" id="t398" style="top:1056px;line-height:16px;font-size:14.00px;color:#4a3b8f;font-weight:700;left:818.87px;transform:translateX(-50%);-webkit-text-stroke:0.35px #4a3b8f;">15</span>
<span class="t" id="t399" style="top:1056px;line-height:16px;font-size:14.00px;color:#4a3b8f;font-weight:700;left:855.13px;transform:translateX(-50%);-webkit-text-stroke:0.35px #4a3b8f;">16</span>
<span class="t" id="t400" style="top:1056px;line-height:16px;font-size:14.00px;color:#4a3b8f;font-weight:700;left:891.40px;transform:translateX(-50%);-webkit-text-stroke:0.35px #4a3b8f;">17</span>
<span class="t" id="t401" style="top:1056px;line-height:16px;font-size:14.00px;color:#4a3b8f;font-weight:700;left:927.67px;transform:translateX(-50%);-webkit-text-stroke:0.35px #4a3b8f;">18</span>
<span class="t" id="t402" style="top:1056px;line-height:16px;font-size:14.00px;color:#fff;left:963.93px;transform:translateX(-50%);-webkit-text-stroke:0.45px #fff;">19</span>
<span class="t" id="t403" style="top:1056px;line-height:16px;font-size:14.00px;color:#4a3b8f;font-weight:700;left:1000.20px;transform:translateX(-50%);-webkit-text-stroke:0.35px #4a3b8f;">20</span>
<span class="t" id="t404" style="top:1083px;line-height:16px;font-size:14.00px;color:#4a3b8f;font-weight:700;left:782.60px;transform:translateX(-50%);-webkit-text-stroke:0.35px #4a3b8f;">21</span>
<span class="t" id="t405" style="top:1083px;line-height:16px;font-size:14.00px;color:#4a3b8f;font-weight:700;left:818.87px;transform:translateX(-50%);-webkit-text-stroke:0.35px #4a3b8f;">22</span>
<span class="t" id="t406" style="top:1083px;line-height:16px;font-size:14.00px;color:#4a3b8f;font-weight:700;left:855.13px;transform:translateX(-50%);-webkit-text-stroke:0.35px #4a3b8f;">23</span>
<span class="t" id="t407" style="top:1083px;line-height:16px;font-size:14.00px;color:#4a3b8f;font-weight:700;left:891.40px;transform:translateX(-50%);-webkit-text-stroke:0.35px #4a3b8f;">24</span>
<span class="t" id="t408" style="top:1083px;line-height:16px;font-size:14.00px;color:#fff;left:927.67px;transform:translateX(-50%);-webkit-text-stroke:0.45px #fff;">25</span>
<span class="t" id="t409" style="top:1083px;line-height:16px;font-size:14.00px;color:#4a3b8f;font-weight:700;left:963.93px;transform:translateX(-50%);-webkit-text-stroke:0.35px #4a3b8f;">26</span>
<span class="t" id="t410" style="top:1083px;line-height:16px;font-size:14.00px;color:#4a3b8f;font-weight:700;left:1000.20px;transform:translateX(-50%);-webkit-text-stroke:0.35px #4a3b8f;">27</span>
<span class="t" id="t411" style="top:1111px;line-height:16px;font-size:14.00px;color:#4a3b8f;font-weight:700;left:782.60px;transform:translateX(-50%);-webkit-text-stroke:0.35px #4a3b8f;">28</span>
<span class="t" id="t412" style="top:1111px;line-height:16px;font-size:14.00px;color:#4a3b8f;font-weight:700;left:818.87px;transform:translateX(-50%);-webkit-text-stroke:0.35px #4a3b8f;">29</span>
<span class="t" id="t413" style="top:1111px;line-height:16px;font-size:14.00px;color:#4a3b8f;font-weight:700;left:855.13px;transform:translateX(-50%);-webkit-text-stroke:0.35px #4a3b8f;">30</span>
<span class="t" id="t414" style="top:1167px;line-height:19px;font-size:17.00px;color:#4c3c96;font-weight:700;left:548.80px;transform-origin:0 0;transform:scaleX(0.9719);-webkit-text-stroke:0.6px #4c3c96;">MAY</span>
<span class="t" id="t415" style="top:1167px;line-height:19px;font-size:17.00px;color:#4c3c96;font-weight:700;letter-spacing:1.124px;left:589.00px;-webkit-text-stroke:0.6px #4c3c96;">2024</span>
<span class="t" id="t416" style="top:1200px;line-height:12px;font-size:10.50px;color:#2fb0da;font-weight:700;left:478.80px;transform:translateX(-50%);-webkit-text-stroke:0.4px #2fb0da;">S</span>
<span class="t" id="t417" style="top:1200px;line-height:12px;font-size:10.50px;color:#2fb0da;font-weight:700;left:515.08px;transform:translateX(-50%);-webkit-text-stroke:0.4px #2fb0da;">M</span>
<span class="t" id="t418" style="top:1200px;line-height:12px;font-size:10.50px;color:#2fb0da;font-weight:700;left:551.37px;transform:translateX(-50%);-webkit-text-stroke:0.4px #2fb0da;">T</span>
<span class="t" id="t419" style="top:1200px;line-height:12px;font-size:10.50px;color:#2fb0da;font-weight:700;left:587.65px;transform:translateX(-50%);-webkit-text-stroke:0.4px #2fb0da;">W</span>
<span class="t" id="t420" style="top:1200px;line-height:12px;font-size:10.50px;color:#2fb0da;font-weight:700;left:623.93px;transform:translateX(-50%);-webkit-text-stroke:0.4px #2fb0da;">T</span>
<span class="t" id="t421" style="top:1200px;line-height:12px;font-size:10.50px;color:#2fb0da;font-weight:700;left:660.22px;transform:translateX(-50%);-webkit-text-stroke:0.4px #2fb0da;">F</span>
<span class="t" id="t422" style="top:1200px;line-height:12px;font-size:10.50px;color:#2fb0da;font-weight:700;left:696.50px;transform:translateX(-50%);-webkit-text-stroke:0.4px #2fb0da;">S</span>
<span class="t" id="t423" style="top:1224px;line-height:16px;font-size:14.00px;color:#4a3b8f;font-weight:700;left:587.65px;transform:translateX(-50%);-webkit-text-stroke:0.35px #4a3b8f;">1</span>
<span class="t" id="t424" style="top:1224px;line-height:16px;font-size:14.00px;color:#4a3b8f;font-weight:700;left:623.93px;transform:translateX(-50%);-webkit-text-stroke:0.35px #4a3b8f;">2</span>
<span class="t" id="t425" style="top:1224px;line-height:16px;font-size:14.00px;color:#4a3b8f;font-weight:700;left:660.22px;transform:translateX(-50%);-webkit-text-stroke:0.35px #4a3b8f;">3</span>
<span class="t" id="t426" style="top:1224px;line-height:16px;font-size:14.00px;color:#4a3b8f;font-weight:700;left:696.50px;transform:translateX(-50%);-webkit-text-stroke:0.35px #4a3b8f;">4</span>
<span class="t" id="t427" style="top:1251px;line-height:16px;font-size:14.00px;color:#4a3b8f;font-weight:700;left:478.80px;transform:translateX(-50%);-webkit-text-stroke:0.35px #4a3b8f;">5</span>
<span class="t" id="t428" style="top:1251px;line-height:16px;font-size:14.00px;color:#4a3b8f;font-weight:700;left:515.08px;transform:translateX(-50%);-webkit-text-stroke:0.35px #4a3b8f;">6</span>
<span class="t" id="t429" style="top:1251px;line-height:16px;font-size:14.00px;color:#4a3b8f;font-weight:700;left:551.37px;transform:translateX(-50%);-webkit-text-stroke:0.35px #4a3b8f;">7</span>
<span class="t" id="t430" style="top:1251px;line-height:16px;font-size:14.00px;color:#4a3b8f;font-weight:700;left:587.65px;transform:translateX(-50%);-webkit-text-stroke:0.35px #4a3b8f;">8</span>
<span class="t" id="t431" style="top:1251px;line-height:16px;font-size:14.00px;color:#4a3b8f;font-weight:700;left:623.93px;transform:translateX(-50%);-webkit-text-stroke:0.35px #4a3b8f;">9</span>
<span class="t" id="t432" style="top:1251px;line-height:16px;font-size:14.00px;color:#4a3b8f;font-weight:700;left:660.22px;transform:translateX(-50%);-webkit-text-stroke:0.35px #4a3b8f;">10</span>
<span class="t" id="t433" style="top:1251px;line-height:16px;font-size:14.00px;color:#4a3b8f;font-weight:700;left:696.50px;transform:translateX(-50%);-webkit-text-stroke:0.35px #4a3b8f;">11</span>
<span class="t" id="t434" style="top:1279px;line-height:16px;font-size:14.00px;color:#4a3b8f;font-weight:700;left:478.80px;transform:translateX(-50%);-webkit-text-stroke:0.35px #4a3b8f;">12</span>
<span class="t" id="t435" style="top:1279px;line-height:16px;font-size:14.00px;color:#4a3b8f;font-weight:700;left:515.08px;transform:translateX(-50%);-webkit-text-stroke:0.35px #4a3b8f;">13</span>
<span class="t" id="t436" style="top:1279px;line-height:16px;font-size:14.00px;color:#4a3b8f;font-weight:700;left:551.37px;transform:translateX(-50%);-webkit-text-stroke:0.35px #4a3b8f;">14</span>
<span class="t" id="t437" style="top:1279px;line-height:16px;font-size:14.00px;color:#4a3b8f;font-weight:700;left:587.65px;transform:translateX(-50%);-webkit-text-stroke:0.35px #4a3b8f;">15</span>
<span class="t" id="t438" style="top:1279px;line-height:16px;font-size:14.00px;color:#4a3b8f;font-weight:700;left:623.93px;transform:translateX(-50%);-webkit-text-stroke:0.35px #4a3b8f;">16</span>
<span class="t" id="t439" style="top:1279px;line-height:16px;font-size:14.00px;color:#4a3b8f;font-weight:700;left:660.22px;transform:translateX(-50%);-webkit-text-stroke:0.35px #4a3b8f;">17</span>
<span class="t" id="t440" style="top:1279px;line-height:16px;font-size:14.00px;color:#4a3b8f;font-weight:700;left:696.50px;transform:translateX(-50%);-webkit-text-stroke:0.35px #4a3b8f;">18</span>
<span class="t" id="t441" style="top:1306px;line-height:16px;font-size:14.00px;color:#4a3b8f;font-weight:700;left:478.80px;transform:translateX(-50%);-webkit-text-stroke:0.35px #4a3b8f;">19</span>
<span class="t" id="t442" style="top:1306px;line-height:16px;font-size:14.00px;color:#fff;left:515.08px;transform:translateX(-50%);-webkit-text-stroke:0.45px #fff;">20</span>
<span class="t" id="t443" style="top:1306px;line-height:16px;font-size:14.00px;color:#fff;left:551.37px;transform:translateX(-50%);-webkit-text-stroke:0.45px #fff;">21</span>
<span class="t" id="t444" style="top:1306px;line-height:16px;font-size:14.00px;color:#fff;left:587.65px;transform:translateX(-50%);-webkit-text-stroke:0.45px #fff;">22</span>
<span class="t" id="t445" style="top:1306px;line-height:16px;font-size:14.00px;color:#fff;left:623.93px;transform:translateX(-50%);-webkit-text-stroke:0.45px #fff;">23</span>
<span class="t" id="t446" style="top:1306px;line-height:16px;font-size:14.00px;color:#2a176a;font-weight:700;left:660.22px;transform:translateX(-50%);-webkit-text-stroke:0.35px #2a176a;">24</span>
<span class="t" id="t447" style="top:1306px;line-height:16px;font-size:14.00px;color:#2a176a;font-weight:700;left:696.50px;transform:translateX(-50%);-webkit-text-stroke:0.35px #2a176a;">25</span>
<span class="t" id="t448" style="top:1334px;line-height:16px;font-size:14.00px;color:#4a3b8f;font-weight:700;left:478.80px;transform:translateX(-50%);-webkit-text-stroke:0.35px #4a3b8f;">26</span>
<span class="t" id="t449" style="top:1334px;line-height:16px;font-size:14.00px;color:#fff;left:515.08px;transform:translateX(-50%);-webkit-text-stroke:0.45px #fff;">27</span>
<span class="t" id="t450" style="top:1334px;line-height:16px;font-size:14.00px;color:#4a3b8f;font-weight:700;left:551.37px;transform:translateX(-50%);-webkit-text-stroke:0.35px #4a3b8f;">28</span>
<span class="t" id="t451" style="top:1334px;line-height:16px;font-size:14.00px;color:#4a3b8f;font-weight:700;left:587.65px;transform:translateX(-50%);-webkit-text-stroke:0.35px #4a3b8f;">29</span>
<span class="t" id="t452" style="top:1334px;line-height:16px;font-size:14.00px;color:#4a3b8f;font-weight:700;left:623.93px;transform:translateX(-50%);-webkit-text-stroke:0.35px #4a3b8f;">30</span>
<span class="t" id="t453" style="top:1334px;line-height:16px;font-size:14.00px;color:#4a3b8f;font-weight:700;left:660.22px;transform:translateX(-50%);-webkit-text-stroke:0.35px #4a3b8f;">31</span>
<span class="t" id="t454" style="top:1167px;line-height:19px;font-size:17.00px;color:#4c3c96;font-weight:700;left:848.60px;transform-origin:0 0;transform:scaleX(0.9568);-webkit-text-stroke:0.6px #4c3c96;">JUNE</span>
<span class="t" id="t455" style="top:1167px;line-height:19px;font-size:17.00px;color:#4c3c96;font-weight:700;letter-spacing:1.124px;left:897.00px;-webkit-text-stroke:0.6px #4c3c96;">2024</span>
<span class="t" id="t456" style="top:1200px;line-height:12px;font-size:10.50px;color:#2fb0da;font-weight:700;left:782.60px;transform:translateX(-50%);-webkit-text-stroke:0.4px #2fb0da;">S</span>
<span class="t" id="t457" style="top:1200px;line-height:12px;font-size:10.50px;color:#2fb0da;font-weight:700;left:818.87px;transform:translateX(-50%);-webkit-text-stroke:0.4px #2fb0da;">M</span>
<span class="t" id="t458" style="top:1200px;line-height:12px;font-size:10.50px;color:#2fb0da;font-weight:700;left:855.13px;transform:translateX(-50%);-webkit-text-stroke:0.4px #2fb0da;">T</span>
<span class="t" id="t459" style="top:1200px;line-height:12px;font-size:10.50px;color:#2fb0da;font-weight:700;left:891.40px;transform:translateX(-50%);-webkit-text-stroke:0.4px #2fb0da;">W</span>
<span class="t" id="t460" style="top:1200px;line-height:12px;font-size:10.50px;color:#2fb0da;font-weight:700;left:927.67px;transform:translateX(-50%);-webkit-text-stroke:0.4px #2fb0da;">T</span>
<span class="t" id="t461" style="top:1200px;line-height:12px;font-size:10.50px;color:#2fb0da;font-weight:700;left:963.93px;transform:translateX(-50%);-webkit-text-stroke:0.4px #2fb0da;">F</span>
<span class="t" id="t462" style="top:1200px;line-height:12px;font-size:10.50px;color:#2fb0da;font-weight:700;left:1000.20px;transform:translateX(-50%);-webkit-text-stroke:0.4px #2fb0da;">S</span>
<span class="t" id="t463" style="top:1224px;line-height:16px;font-size:14.00px;color:#4a3b8f;font-weight:700;left:1000.20px;transform:translateX(-50%);-webkit-text-stroke:0.35px #4a3b8f;">1</span>
<span class="t" id="t464" style="top:1251px;line-height:16px;font-size:14.00px;color:#4a3b8f;font-weight:700;left:782.60px;transform:translateX(-50%);-webkit-text-stroke:0.35px #4a3b8f;">2</span>
<span class="t" id="t465" style="top:1251px;line-height:16px;font-size:14.00px;color:#4a3b8f;font-weight:700;left:818.87px;transform:translateX(-50%);-webkit-text-stroke:0.35px #4a3b8f;">3</span>
<span class="t" id="t466" style="top:1251px;line-height:16px;font-size:14.00px;color:#fff;left:855.83px;transform:translateX(-50%);-webkit-text-stroke:0.45px #fff;">4</span>
<span class="t" id="t467" style="top:1251px;line-height:16px;font-size:14.00px;color:#4a3b8f;font-weight:700;left:891.40px;transform:translateX(-50%);-webkit-text-stroke:0.35px #4a3b8f;">5</span>
<span class="t" id="t468" style="top:1251px;line-height:16px;font-size:14.00px;color:#4a3b8f;font-weight:700;left:927.67px;transform:translateX(-50%);-webkit-text-stroke:0.35px #4a3b8f;">6</span>
<span class="t" id="t469" style="top:1251px;line-height:16px;font-size:14.00px;color:#4a3b8f;font-weight:700;left:963.93px;transform:translateX(-50%);-webkit-text-stroke:0.35px #4a3b8f;">7</span>
<span class="t" id="t470" style="top:1251px;line-height:16px;font-size:14.00px;color:#4a3b8f;font-weight:700;left:1000.20px;transform:translateX(-50%);-webkit-text-stroke:0.35px #4a3b8f;">8</span>
<span class="t" id="t471" style="top:1279px;line-height:16px;font-size:14.00px;color:#4a3b8f;font-weight:700;left:782.60px;transform:translateX(-50%);-webkit-text-stroke:0.35px #4a3b8f;">9</span>
<span class="t" id="t472" style="top:1279px;line-height:16px;font-size:14.00px;color:#4a3b8f;font-weight:700;left:818.87px;transform:translateX(-50%);-webkit-text-stroke:0.35px #4a3b8f;">10</span>
<span class="t" id="t473" style="top:1279px;line-height:16px;font-size:14.00px;color:#4a3b8f;font-weight:700;left:855.13px;transform:translateX(-50%);-webkit-text-stroke:0.35px #4a3b8f;">11</span>
<span class="t" id="t474" style="top:1279px;line-height:16px;font-size:14.00px;color:#4a3b8f;font-weight:700;left:891.40px;transform:translateX(-50%);-webkit-text-stroke:0.35px #4a3b8f;">12</span>
<span class="t" id="t475" style="top:1279px;line-height:16px;font-size:14.00px;color:#4a3b8f;font-weight:700;left:927.67px;transform:translateX(-50%);-webkit-text-stroke:0.35px #4a3b8f;">13</span>
<span class="t" id="t476" style="top:1279px;line-height:16px;font-size:14.00px;color:#4a3b8f;font-weight:700;left:963.93px;transform:translateX(-50%);-webkit-text-stroke:0.35px #4a3b8f;">14</span>
<span class="t" id="t477" style="top:1279px;line-height:16px;font-size:14.00px;color:#4a3b8f;font-weight:700;left:1000.20px;transform:translateX(-50%);-webkit-text-stroke:0.35px #4a3b8f;">15</span>
<span class="t" id="t478" style="top:1306px;line-height:16px;font-size:14.00px;color:#4a3b8f;font-weight:700;left:782.60px;transform:translateX(-50%);-webkit-text-stroke:0.35px #4a3b8f;">16</span>
<span class="t" id="t479" style="top:1306px;line-height:16px;font-size:14.00px;color:#4a3b8f;font-weight:700;left:818.87px;transform:translateX(-50%);-webkit-text-stroke:0.35px #4a3b8f;">17</span>
<span class="t" id="t480" style="top:1306px;line-height:16px;font-size:14.00px;color:#4a3b8f;font-weight:700;left:855.13px;transform:translateX(-50%);-webkit-text-stroke:0.35px #4a3b8f;">18</span>
<span class="t" id="t481" style="top:1306px;line-height:16px;font-size:14.00px;color:#4a3b8f;font-weight:700;left:891.40px;transform:translateX(-50%);-webkit-text-stroke:0.35px #4a3b8f;">19</span>
<span class="t" id="t482" style="top:1306px;line-height:16px;font-size:14.00px;color:#4a3b8f;font-weight:700;left:927.67px;transform:translateX(-50%);-webkit-text-stroke:0.35px #4a3b8f;">20</span>
<span class="t" id="t483" style="top:1306px;line-height:16px;font-size:14.00px;color:#4a3b8f;font-weight:700;left:963.93px;transform:translateX(-50%);-webkit-text-stroke:0.35px #4a3b8f;">21</span>
<span class="t" id="t484" style="top:1306px;line-height:16px;font-size:14.00px;color:#4a3b8f;font-weight:700;left:1000.20px;transform:translateX(-50%);-webkit-text-stroke:0.35px #4a3b8f;">22</span>
<span class="t" id="t485" style="top:1334px;line-height:16px;font-size:14.00px;color:#4a3b8f;font-weight:700;left:782.60px;transform:translateX(-50%);-webkit-text-stroke:0.35px #4a3b8f;">23</span>
<span class="t" id="t486" style="top:1334px;line-height:16px;font-size:14.00px;color:#4a3b8f;font-weight:700;left:818.87px;transform:translateX(-50%);-webkit-text-stroke:0.35px #4a3b8f;">24</span>
<span class="t" id="t487" style="top:1334px;line-height:16px;font-size:14.00px;color:#4a3b8f;font-weight:700;left:855.13px;transform:translateX(-50%);-webkit-text-stroke:0.35px #4a3b8f;">25</span>
<span class="t" id="t488" style="top:1334px;line-height:16px;font-size:14.00px;color:#4a3b8f;font-weight:700;left:891.40px;transform:translateX(-50%);-webkit-text-stroke:0.35px #4a3b8f;">26</span>
<span class="t" id="t489" style="top:1334px;line-height:16px;font-size:14.00px;color:#4a3b8f;font-weight:700;left:927.67px;transform:translateX(-50%);-webkit-text-stroke:0.35px #4a3b8f;">27</span>
<span class="t" id="t490" style="top:1334px;line-height:16px;font-size:14.00px;color:#4a3b8f;font-weight:700;left:963.93px;transform:translateX(-50%);-webkit-text-stroke:0.35px #4a3b8f;">28</span>
<span class="t" id="t491" style="top:1334px;line-height:16px;font-size:14.00px;color:#4a3b8f;font-weight:700;left:1000.20px;transform:translateX(-50%);-webkit-text-stroke:0.35px #4a3b8f;">29</span>
<span class="t" id="t492" style="top:1360px;line-height:16px;font-size:14.00px;color:#4a3b8f;font-weight:700;left:782.60px;transform:translateX(-50%);-webkit-text-stroke:0.35px #4a3b8f;">30</span>
</body></html>
